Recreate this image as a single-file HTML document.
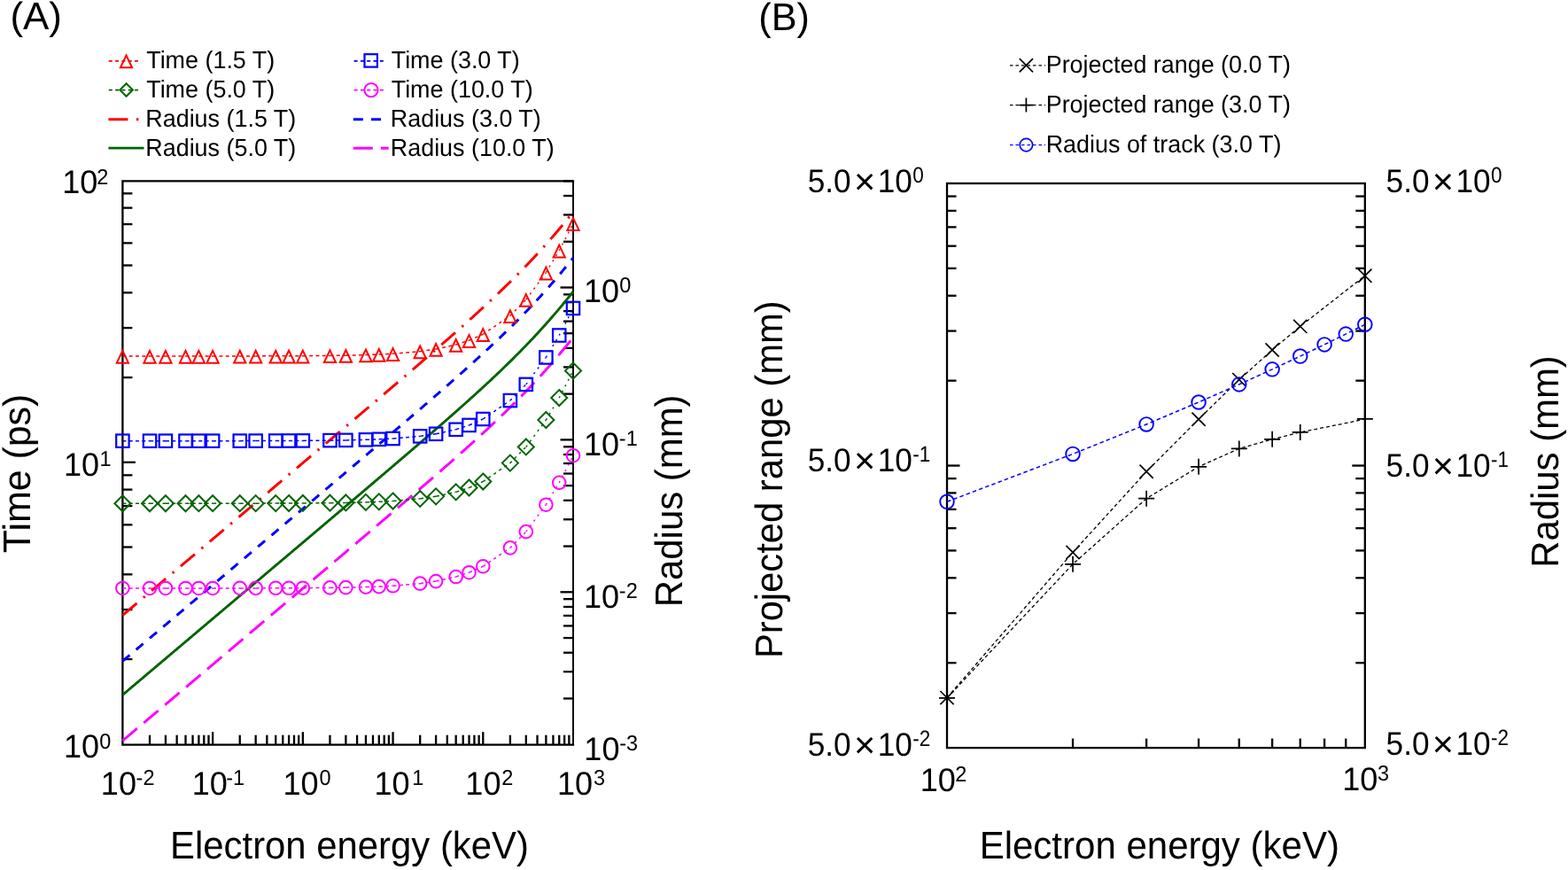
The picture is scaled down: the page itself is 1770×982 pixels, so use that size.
<!DOCTYPE html><html><head><meta charset="utf-8"><style>html,body{margin:0;padding:0;background:#fff;overflow:hidden}svg{display:block}</style></head><body><svg width="1770" height="982" viewBox="0 0 1770 982" text-rendering="geometricPrecision" font-family="'Liberation Sans', Arial, sans-serif">
<rect width="1770" height="982" fill="#ffffff"/>
<text transform="translate(11.38,33.3) scale(1.0097,1)" font-size="43.5">(A)</text>
<text transform="translate(165.2,76.8) scale(0.9750,1)" font-size="27.6">Time (1.5 T)</text>
<text transform="translate(165.2,110) scale(0.9750,1)" font-size="27.6">Time (5.0 T)</text>
<text transform="translate(164.29,143.2) scale(0.9750,1)" font-size="27.6">Radius (1.5 T)</text>
<text transform="translate(164.29,176.4) scale(0.9750,1)" font-size="27.6">Radius (5.0 T)</text>
<text transform="translate(441.7,76.8) scale(0.9750,1)" font-size="27.6">Time (3.0 T)</text>
<text transform="translate(441.7,110) scale(0.9750,1)" font-size="27.6">Time (10.0 T)</text>
<text transform="translate(440.79,143.2) scale(0.9750,1)" font-size="27.6">Radius (3.0 T)</text>
<text transform="translate(440.79,176.4) scale(0.9750,1)" font-size="27.6">Radius (10.0 T)</text>
<polyline points="122.8,68.9 158.5,68.9" fill="none" stroke="#ff0000" stroke-width="1.6" stroke-dasharray="4 3.3" stroke-linecap="butt" stroke-linejoin="round"/>
<path d="M142.5,62.5 L149.1,76.3 L135.9,76.3 Z" fill="none" stroke="#ff0000" stroke-width="2.0" stroke-linejoin="miter" stroke-miterlimit="10"/>
<polyline points="122.8,101.6 158.5,101.6" fill="none" stroke="#006400" stroke-width="1.6" stroke-dasharray="4 3.3" stroke-linecap="butt" stroke-linejoin="round"/>
<path d="M142.6,94.2 L149.9,101.5 L142.6,108.8 L135.3,101.5 Z" fill="none" stroke="#006400" stroke-width="2.0" stroke-miterlimit="10"/>
<polyline points="122.4,134.7 157,134.7" fill="none" stroke="#ff0000" stroke-width="3" stroke-dasharray="22 9.5 2.5 9.5" stroke-linecap="butt" stroke-linejoin="round"/>
<polyline points="122.4,167.2 162.5,167.2" fill="none" stroke="#006400" stroke-width="2.8" stroke-linecap="butt" stroke-linejoin="round"/>
<polyline points="399.6,68.9 434.8,68.9" fill="none" stroke="#0000ff" stroke-width="1.6" stroke-dasharray="4 3.3" stroke-linecap="butt" stroke-linejoin="round"/>
<rect x="411.5" y="61.2" width="14.4" height="14.4" fill="none" stroke="#0000ff" stroke-width="2.2"/>
<polyline points="399.6,101.6 434.8,101.6" fill="none" stroke="#ff00ff" stroke-width="1.6" stroke-dasharray="4 3.3" stroke-linecap="butt" stroke-linejoin="round"/>
<circle cx="419" cy="101.6" r="7.6" fill="none" stroke="#ff00ff" stroke-width="2.0"/>
<polyline points="398.8,134.7 430,134.7" fill="none" stroke="#0000ff" stroke-width="3" stroke-dasharray="11 9.2" stroke-linecap="butt" stroke-linejoin="round"/>
<polyline points="398.8,167.2 438.7,167.2" fill="none" stroke="#ff00ff" stroke-width="3" stroke-dasharray="22 9" stroke-linecap="butt" stroke-linejoin="round"/>
<path d="M647,204.3 L138.4,204.3 L138.4,840.7 L647,840.7" fill="none" stroke="#000" stroke-width="2.3" stroke-linecap="square"/>
<line x1="647" y1="204.3" x2="647" y2="840.7" stroke="#000000" stroke-width="1.9" />
<line x1="169.02" y1="840.7" x2="169.02" y2="829.7" stroke="#000000" stroke-width="2.3" />
<line x1="186.93" y1="840.7" x2="186.93" y2="829.7" stroke="#000000" stroke-width="2.3" />
<line x1="199.64" y1="840.7" x2="199.64" y2="829.7" stroke="#000000" stroke-width="2.3" />
<line x1="209.5" y1="840.7" x2="209.5" y2="829.7" stroke="#000000" stroke-width="2.3" />
<line x1="217.55" y1="840.7" x2="217.55" y2="829.7" stroke="#000000" stroke-width="2.3" />
<line x1="224.36" y1="840.7" x2="224.36" y2="829.7" stroke="#000000" stroke-width="2.3" />
<line x1="230.26" y1="840.7" x2="230.26" y2="829.7" stroke="#000000" stroke-width="2.3" />
<line x1="235.47" y1="840.7" x2="235.47" y2="829.7" stroke="#000000" stroke-width="2.3" />
<line x1="240.12" y1="840.7" x2="240.12" y2="826.2" stroke="#000000" stroke-width="2.3" />
<line x1="270.74" y1="840.7" x2="270.74" y2="829.7" stroke="#000000" stroke-width="2.3" />
<line x1="288.65" y1="840.7" x2="288.65" y2="829.7" stroke="#000000" stroke-width="2.3" />
<line x1="301.36" y1="840.7" x2="301.36" y2="829.7" stroke="#000000" stroke-width="2.3" />
<line x1="311.22" y1="840.7" x2="311.22" y2="829.7" stroke="#000000" stroke-width="2.3" />
<line x1="319.27" y1="840.7" x2="319.27" y2="829.7" stroke="#000000" stroke-width="2.3" />
<line x1="326.08" y1="840.7" x2="326.08" y2="829.7" stroke="#000000" stroke-width="2.3" />
<line x1="331.98" y1="840.7" x2="331.98" y2="829.7" stroke="#000000" stroke-width="2.3" />
<line x1="337.19" y1="840.7" x2="337.19" y2="829.7" stroke="#000000" stroke-width="2.3" />
<line x1="341.84" y1="840.7" x2="341.84" y2="826.2" stroke="#000000" stroke-width="2.3" />
<line x1="372.46" y1="840.7" x2="372.46" y2="829.7" stroke="#000000" stroke-width="2.3" />
<line x1="390.37" y1="840.7" x2="390.37" y2="829.7" stroke="#000000" stroke-width="2.3" />
<line x1="403.08" y1="840.7" x2="403.08" y2="829.7" stroke="#000000" stroke-width="2.3" />
<line x1="412.94" y1="840.7" x2="412.94" y2="829.7" stroke="#000000" stroke-width="2.3" />
<line x1="420.99" y1="840.7" x2="420.99" y2="829.7" stroke="#000000" stroke-width="2.3" />
<line x1="427.8" y1="840.7" x2="427.8" y2="829.7" stroke="#000000" stroke-width="2.3" />
<line x1="433.7" y1="840.7" x2="433.7" y2="829.7" stroke="#000000" stroke-width="2.3" />
<line x1="438.91" y1="840.7" x2="438.91" y2="829.7" stroke="#000000" stroke-width="2.3" />
<line x1="443.56" y1="840.7" x2="443.56" y2="826.2" stroke="#000000" stroke-width="2.3" />
<line x1="474.18" y1="840.7" x2="474.18" y2="829.7" stroke="#000000" stroke-width="2.3" />
<line x1="492.09" y1="840.7" x2="492.09" y2="829.7" stroke="#000000" stroke-width="2.3" />
<line x1="504.8" y1="840.7" x2="504.8" y2="829.7" stroke="#000000" stroke-width="2.3" />
<line x1="514.66" y1="840.7" x2="514.66" y2="829.7" stroke="#000000" stroke-width="2.3" />
<line x1="522.71" y1="840.7" x2="522.71" y2="829.7" stroke="#000000" stroke-width="2.3" />
<line x1="529.52" y1="840.7" x2="529.52" y2="829.7" stroke="#000000" stroke-width="2.3" />
<line x1="535.42" y1="840.7" x2="535.42" y2="829.7" stroke="#000000" stroke-width="2.3" />
<line x1="540.63" y1="840.7" x2="540.63" y2="829.7" stroke="#000000" stroke-width="2.3" />
<line x1="545.28" y1="840.7" x2="545.28" y2="826.2" stroke="#000000" stroke-width="2.3" />
<line x1="575.9" y1="840.7" x2="575.9" y2="829.7" stroke="#000000" stroke-width="2.3" />
<line x1="593.81" y1="840.7" x2="593.81" y2="829.7" stroke="#000000" stroke-width="2.3" />
<line x1="606.52" y1="840.7" x2="606.52" y2="829.7" stroke="#000000" stroke-width="2.3" />
<line x1="616.38" y1="840.7" x2="616.38" y2="829.7" stroke="#000000" stroke-width="2.3" />
<line x1="624.43" y1="840.7" x2="624.43" y2="829.7" stroke="#000000" stroke-width="2.3" />
<line x1="631.24" y1="840.7" x2="631.24" y2="829.7" stroke="#000000" stroke-width="2.3" />
<line x1="637.14" y1="840.7" x2="637.14" y2="829.7" stroke="#000000" stroke-width="2.3" />
<line x1="642.35" y1="840.7" x2="642.35" y2="829.7" stroke="#000000" stroke-width="2.3" />
<line x1="138.4" y1="744.07" x2="149.4" y2="744.07" stroke="#000000" stroke-width="2.3" />
<line x1="138.4" y1="688.08" x2="149.4" y2="688.08" stroke="#000000" stroke-width="2.3" />
<line x1="138.4" y1="648.34" x2="149.4" y2="648.34" stroke="#000000" stroke-width="2.3" />
<line x1="138.4" y1="617.53" x2="149.4" y2="617.53" stroke="#000000" stroke-width="2.3" />
<line x1="138.4" y1="592.35" x2="149.4" y2="592.35" stroke="#000000" stroke-width="2.3" />
<line x1="138.4" y1="571.06" x2="149.4" y2="571.06" stroke="#000000" stroke-width="2.3" />
<line x1="138.4" y1="552.62" x2="149.4" y2="552.62" stroke="#000000" stroke-width="2.3" />
<line x1="138.4" y1="536.35" x2="149.4" y2="536.35" stroke="#000000" stroke-width="2.3" />
<line x1="138.4" y1="426.07" x2="149.4" y2="426.07" stroke="#000000" stroke-width="2.3" />
<line x1="138.4" y1="370.08" x2="149.4" y2="370.08" stroke="#000000" stroke-width="2.3" />
<line x1="138.4" y1="330.34" x2="149.4" y2="330.34" stroke="#000000" stroke-width="2.3" />
<line x1="138.4" y1="299.53" x2="149.4" y2="299.53" stroke="#000000" stroke-width="2.3" />
<line x1="138.4" y1="274.35" x2="149.4" y2="274.35" stroke="#000000" stroke-width="2.3" />
<line x1="138.4" y1="253.06" x2="149.4" y2="253.06" stroke="#000000" stroke-width="2.3" />
<line x1="138.4" y1="234.62" x2="149.4" y2="234.62" stroke="#000000" stroke-width="2.3" />
<line x1="138.4" y1="218.35" x2="149.4" y2="218.35" stroke="#000000" stroke-width="2.3" />
<line x1="138.4" y1="521.8" x2="152.9" y2="521.8" stroke="#000000" stroke-width="2.3" />
<line x1="647" y1="788.45" x2="636" y2="788.45" stroke="#000000" stroke-width="2.3" />
<line x1="647" y1="758.18" x2="636" y2="758.18" stroke="#000000" stroke-width="2.3" />
<line x1="647" y1="736.71" x2="636" y2="736.71" stroke="#000000" stroke-width="2.3" />
<line x1="647" y1="720.05" x2="636" y2="720.05" stroke="#000000" stroke-width="2.3" />
<line x1="647" y1="706.44" x2="636" y2="706.44" stroke="#000000" stroke-width="2.3" />
<line x1="647" y1="694.93" x2="636" y2="694.93" stroke="#000000" stroke-width="2.3" />
<line x1="647" y1="684.96" x2="636" y2="684.96" stroke="#000000" stroke-width="2.3" />
<line x1="647" y1="676.17" x2="636" y2="676.17" stroke="#000000" stroke-width="2.3" />
<line x1="647" y1="616.55" x2="636" y2="616.55" stroke="#000000" stroke-width="2.3" />
<line x1="647" y1="586.28" x2="636" y2="586.28" stroke="#000000" stroke-width="2.3" />
<line x1="647" y1="564.81" x2="636" y2="564.81" stroke="#000000" stroke-width="2.3" />
<line x1="647" y1="548.15" x2="636" y2="548.15" stroke="#000000" stroke-width="2.3" />
<line x1="647" y1="534.54" x2="636" y2="534.54" stroke="#000000" stroke-width="2.3" />
<line x1="647" y1="523.03" x2="636" y2="523.03" stroke="#000000" stroke-width="2.3" />
<line x1="647" y1="513.06" x2="636" y2="513.06" stroke="#000000" stroke-width="2.3" />
<line x1="647" y1="504.27" x2="636" y2="504.27" stroke="#000000" stroke-width="2.3" />
<line x1="647" y1="444.65" x2="636" y2="444.65" stroke="#000000" stroke-width="2.3" />
<line x1="647" y1="414.38" x2="636" y2="414.38" stroke="#000000" stroke-width="2.3" />
<line x1="647" y1="392.91" x2="636" y2="392.91" stroke="#000000" stroke-width="2.3" />
<line x1="647" y1="376.25" x2="636" y2="376.25" stroke="#000000" stroke-width="2.3" />
<line x1="647" y1="362.64" x2="636" y2="362.64" stroke="#000000" stroke-width="2.3" />
<line x1="647" y1="351.13" x2="636" y2="351.13" stroke="#000000" stroke-width="2.3" />
<line x1="647" y1="341.16" x2="636" y2="341.16" stroke="#000000" stroke-width="2.3" />
<line x1="647" y1="332.37" x2="636" y2="332.37" stroke="#000000" stroke-width="2.3" />
<line x1="647" y1="272.75" x2="636" y2="272.75" stroke="#000000" stroke-width="2.3" />
<line x1="647" y1="242.48" x2="636" y2="242.48" stroke="#000000" stroke-width="2.3" />
<line x1="647" y1="221.01" x2="636" y2="221.01" stroke="#000000" stroke-width="2.3" />
<line x1="647" y1="204.35" x2="636" y2="204.35" stroke="#000000" stroke-width="2.3" />
<line x1="647" y1="668.3" x2="632.5" y2="668.3" stroke="#000000" stroke-width="2.3" />
<line x1="647" y1="496.4" x2="632.5" y2="496.4" stroke="#000000" stroke-width="2.3" />
<line x1="647" y1="324.5" x2="632.5" y2="324.5" stroke="#000000" stroke-width="2.3" />
<polyline points="138.4,694.47 139.67,693.4 140.94,692.32 142.21,691.25 143.49,690.18 144.76,689.1 146.03,688.03 147.3,686.95 148.57,685.88 149.84,684.8 151.12,683.73 152.39,682.65 153.66,681.58 154.93,680.51 156.2,679.43 157.47,678.36 158.74,677.28 160.02,676.21 161.29,675.13 162.56,674.06 163.83,672.99 165.1,671.91 166.37,670.84 167.64,669.76 168.92,668.69 170.19,667.61 171.46,666.54 172.73,665.46 174,664.39 175.27,663.32 176.55,662.24 177.82,661.17 179.09,660.09 180.36,659.02 181.63,657.94 182.9,656.87 184.17,655.79 185.45,654.72 186.72,653.65 187.99,652.57 189.26,651.5 190.53,650.42 191.8,649.35 193.07,648.27 194.35,647.2 195.62,646.13 196.89,645.05 198.16,643.98 199.43,642.9 200.7,641.83 201.98,640.75 203.25,639.68 204.52,638.6 205.79,637.53 207.06,636.46 208.33,635.38 209.6,634.31 210.88,633.23 212.15,632.16 213.42,631.08 214.69,630.01 215.96,628.93 217.23,627.86 218.5,626.79 219.78,625.71 221.05,624.64 222.32,623.56 223.59,622.49 224.86,621.41 226.13,620.34 227.41,619.26 228.68,618.19 229.95,617.12 231.22,616.04 232.49,614.97 233.76,613.89 235.03,612.82 236.31,611.74 237.58,610.67 238.85,609.59 240.12,608.52 241.39,607.45 242.66,606.37 243.93,605.3 245.21,604.22 246.48,603.15 247.75,602.07 249.02,601 250.29,599.92 251.56,598.85 252.84,597.77 254.11,596.7 255.38,595.63 256.65,594.55 257.92,593.48 259.19,592.4 260.46,591.33 261.74,590.25 263.01,589.18 264.28,588.1 265.55,587.03 266.82,585.95 268.09,584.88 269.36,583.81 270.64,582.73 271.91,581.66 273.18,580.58 274.45,579.51 275.72,578.43 276.99,577.36 278.26,576.28 279.54,575.21 280.81,574.13 282.08,573.06 283.35,571.98 284.62,570.91 285.89,569.84 287.17,568.76 288.44,567.69 289.71,566.61 290.98,565.54 292.25,564.46 293.52,563.39 294.79,562.31 296.07,561.24 297.34,560.16 298.61,559.09 299.88,558.01 301.15,556.94 302.42,555.86 303.69,554.79 304.97,553.71 306.24,552.64 307.51,551.56 308.78,550.49 310.05,549.41 311.32,548.34 312.6,547.27 313.87,546.19 315.14,545.12 316.41,544.04 317.68,542.97 318.95,541.89 320.22,540.82 321.5,539.74 322.77,538.67 324.04,537.59 325.31,536.52 326.58,535.44 327.85,534.36 329.12,533.29 330.4,532.21 331.67,531.14 332.94,530.06 334.21,528.99 335.48,527.91 336.75,526.84 338.03,525.76 339.3,524.69 340.57,523.61 341.84,522.54 343.11,521.46 344.38,520.39 345.65,519.31 346.93,518.23 348.2,517.16 349.47,516.08 350.74,515.01 352.01,513.93 353.28,512.86 354.56,511.78 355.83,510.71 357.1,509.63 358.37,508.55 359.64,507.48 360.91,506.4 362.18,505.33 363.46,504.25 364.73,503.17 366,502.1 367.27,501.02 368.54,499.94 369.81,498.87 371.08,497.79 372.36,496.72 373.63,495.64 374.9,494.56 376.17,493.49 377.44,492.41 378.71,491.33 379.99,490.26 381.26,489.18 382.53,488.1 383.8,487.02 385.07,485.95 386.34,484.87 387.61,483.79 388.89,482.72 390.16,481.64 391.43,480.56 392.7,479.48 393.97,478.41 395.24,477.33 396.51,476.25 397.79,475.17 399.06,474.09 400.33,473.01 401.6,471.94 402.87,470.86 404.14,469.78 405.41,468.7 406.69,467.62 407.96,466.54 409.23,465.46 410.5,464.38 411.77,463.31 413.04,462.23 414.32,461.15 415.59,460.07 416.86,458.99 418.13,457.91 419.4,456.83 420.67,455.75 421.94,454.66 423.22,453.58 424.49,452.5 425.76,451.42 427.03,450.34 428.3,449.26 429.57,448.18 430.85,447.09 432.12,446.01 433.39,444.93 434.66,443.85 435.93,442.76 437.2,441.68 438.47,440.6 439.75,439.51 441.02,438.43 442.29,437.34 443.56,436.26 444.83,435.17 446.1,434.09 447.37,433 448.65,431.92 449.92,430.83 451.19,429.75 452.46,428.66 453.73,427.57 455,426.48 456.27,425.4 457.55,424.31 458.82,423.22 460.09,422.13 461.36,421.04 462.63,419.95 463.9,418.86 465.18,417.77 466.45,416.68 467.72,415.58 468.99,414.49 470.26,413.4 471.53,412.31 472.8,411.21 474.08,410.12 475.35,409.02 476.62,407.93 477.89,406.83 479.16,405.73 480.43,404.63 481.71,403.54 482.98,402.44 484.25,401.34 485.52,400.24 486.79,399.14 488.06,398.03 489.33,396.93 490.61,395.83 491.88,394.72 493.15,393.62 494.42,392.51 495.69,391.4 496.96,390.3 498.23,389.19 499.51,388.08 500.78,386.97 502.05,385.85 503.32,384.74 504.59,383.63 505.86,382.51 507.13,381.4 508.41,380.28 509.68,379.16 510.95,378.04 512.22,376.92 513.49,375.8 514.76,374.67 516.04,373.55 517.31,372.42 518.58,371.29 519.85,370.16 521.12,369.03 522.39,367.9 523.66,366.76 524.94,365.63 526.21,364.49 527.48,363.35 528.75,362.21 530.02,361.07 531.29,359.92 532.57,358.77 533.84,357.63 535.11,356.47 536.38,355.32 537.65,354.17 538.92,353.01 540.19,351.85 541.47,350.69 542.74,349.52 544.01,348.36 545.28,347.19 546.55,346.02 547.82,344.84 549.09,343.67 550.37,342.49 551.64,341.31 552.91,340.12 554.18,338.93 555.45,337.74 556.72,336.55 558,335.35 559.27,334.15 560.54,332.95 561.81,331.74 563.08,330.53 564.35,329.32 565.62,328.1 566.9,326.88 568.17,325.66 569.44,324.43 570.71,323.2 571.98,321.96 573.25,320.72 574.52,319.48 575.8,318.23 577.07,316.98 578.34,315.72 579.61,314.46 580.88,313.2 582.15,311.93 583.42,310.65 584.7,309.37 585.97,308.09 587.24,306.8 588.51,305.51 589.78,304.21 591.05,302.9 592.33,301.6 593.6,300.28 594.87,298.96 596.14,297.64 597.41,296.3 598.68,294.97 599.95,293.63 601.23,292.28 602.5,290.92 603.77,289.56 605.04,288.2 606.31,286.82 607.58,285.44 608.86,284.06 610.13,282.67 611.4,281.27 612.67,279.87 613.94,278.46 615.21,277.04 616.48,275.61 617.76,274.18 619.03,272.74 620.3,271.3 621.57,269.85 622.84,268.39 624.11,266.92 625.38,265.45 626.66,263.97 627.93,262.48 629.2,260.98 630.47,259.48 631.74,257.97 633.01,256.45 634.28,254.93 635.56,253.39 636.83,251.85 638.1,250.3 639.37,248.75 640.64,247.19 641.91,245.61 643.19,244.04 644.46,242.45 645.73,240.86 647,239.25" fill="none" stroke="#ff0000" stroke-width="3" stroke-dasharray="21 9.75 2.4 9.75" stroke-linecap="butt" stroke-linejoin="round"/>
<polyline points="138.4,746.22 139.67,745.15 140.94,744.07 142.21,743 143.49,741.92 144.76,740.85 146.03,739.77 147.3,738.7 148.57,737.62 149.84,736.55 151.12,735.48 152.39,734.4 153.66,733.33 154.93,732.25 156.2,731.18 157.47,730.1 158.74,729.03 160.02,727.96 161.29,726.88 162.56,725.81 163.83,724.73 165.1,723.66 166.37,722.58 167.64,721.51 168.92,720.43 170.19,719.36 171.46,718.29 172.73,717.21 174,716.14 175.27,715.06 176.55,713.99 177.82,712.91 179.09,711.84 180.36,710.76 181.63,709.69 182.9,708.62 184.17,707.54 185.45,706.47 186.72,705.39 187.99,704.32 189.26,703.24 190.53,702.17 191.8,701.1 193.07,700.02 194.35,698.95 195.62,697.87 196.89,696.8 198.16,695.72 199.43,694.65 200.7,693.57 201.98,692.5 203.25,691.43 204.52,690.35 205.79,689.28 207.06,688.2 208.33,687.13 209.6,686.05 210.88,684.98 212.15,683.9 213.42,682.83 214.69,681.76 215.96,680.68 217.23,679.61 218.5,678.53 219.78,677.46 221.05,676.38 222.32,675.31 223.59,674.23 224.86,673.16 226.13,672.09 227.41,671.01 228.68,669.94 229.95,668.86 231.22,667.79 232.49,666.71 233.76,665.64 235.03,664.56 236.31,663.49 237.58,662.42 238.85,661.34 240.12,660.27 241.39,659.19 242.66,658.12 243.93,657.04 245.21,655.97 246.48,654.89 247.75,653.82 249.02,652.75 250.29,651.67 251.56,650.6 252.84,649.52 254.11,648.45 255.38,647.37 256.65,646.3 257.92,645.22 259.19,644.15 260.46,643.07 261.74,642 263.01,640.93 264.28,639.85 265.55,638.78 266.82,637.7 268.09,636.63 269.36,635.55 270.64,634.48 271.91,633.4 273.18,632.33 274.45,631.25 275.72,630.18 276.99,629.11 278.26,628.03 279.54,626.96 280.81,625.88 282.08,624.81 283.35,623.73 284.62,622.66 285.89,621.58 287.17,620.51 288.44,619.43 289.71,618.36 290.98,617.28 292.25,616.21 293.52,615.13 294.79,614.06 296.07,612.98 297.34,611.91 298.61,610.84 299.88,609.76 301.15,608.69 302.42,607.61 303.69,606.54 304.97,605.46 306.24,604.39 307.51,603.31 308.78,602.24 310.05,601.16 311.32,600.09 312.6,599.01 313.87,597.94 315.14,596.86 316.41,595.79 317.68,594.71 318.95,593.64 320.22,592.56 321.5,591.49 322.77,590.41 324.04,589.34 325.31,588.26 326.58,587.19 327.85,586.11 329.12,585.04 330.4,583.96 331.67,582.89 332.94,581.81 334.21,580.74 335.48,579.66 336.75,578.59 338.03,577.51 339.3,576.43 340.57,575.36 341.84,574.28 343.11,573.21 344.38,572.13 345.65,571.06 346.93,569.98 348.2,568.91 349.47,567.83 350.74,566.76 352.01,565.68 353.28,564.6 354.56,563.53 355.83,562.45 357.1,561.38 358.37,560.3 359.64,559.22 360.91,558.15 362.18,557.07 363.46,556 364.73,554.92 366,553.84 367.27,552.77 368.54,551.69 369.81,550.62 371.08,549.54 372.36,548.46 373.63,547.39 374.9,546.31 376.17,545.23 377.44,544.16 378.71,543.08 379.99,542 381.26,540.93 382.53,539.85 383.8,538.77 385.07,537.69 386.34,536.62 387.61,535.54 388.89,534.46 390.16,533.39 391.43,532.31 392.7,531.23 393.97,530.15 395.24,529.07 396.51,528 397.79,526.92 399.06,525.84 400.33,524.76 401.6,523.68 402.87,522.61 404.14,521.53 405.41,520.45 406.69,519.37 407.96,518.29 409.23,517.21 410.5,516.13 411.77,515.05 413.04,513.97 414.32,512.89 415.59,511.81 416.86,510.73 418.13,509.65 419.4,508.57 420.67,507.49 421.94,506.41 423.22,505.33 424.49,504.25 425.76,503.17 427.03,502.09 428.3,501.01 429.57,499.92 430.85,498.84 432.12,497.76 433.39,496.68 434.66,495.59 435.93,494.51 437.2,493.43 438.47,492.34 439.75,491.26 441.02,490.18 442.29,489.09 443.56,488.01 444.83,486.92 446.1,485.84 447.37,484.75 448.65,483.67 449.92,482.58 451.19,481.49 452.46,480.41 453.73,479.32 455,478.23 456.27,477.14 457.55,476.05 458.82,474.97 460.09,473.88 461.36,472.79 462.63,471.7 463.9,470.61 465.18,469.51 466.45,468.42 467.72,467.33 468.99,466.24 470.26,465.15 471.53,464.05 472.8,462.96 474.08,461.86 475.35,460.77 476.62,459.67 477.89,458.58 479.16,457.48 480.43,456.38 481.71,455.28 482.98,454.18 484.25,453.08 485.52,451.98 486.79,450.88 488.06,449.78 489.33,448.68 490.61,447.57 491.88,446.47 493.15,445.36 494.42,444.26 495.69,443.15 496.96,442.04 498.23,440.93 499.51,439.82 500.78,438.71 502.05,437.6 503.32,436.49 504.59,435.37 505.86,434.26 507.13,433.14 508.41,432.02 509.68,430.91 510.95,429.79 512.22,428.66 513.49,427.54 514.76,426.42 516.04,425.29 517.31,424.17 518.58,423.04 519.85,421.91 521.12,420.78 522.39,419.64 523.66,418.51 524.94,417.37 526.21,416.24 527.48,415.1 528.75,413.96 530.02,412.81 531.29,411.67 532.57,410.52 533.84,409.37 535.11,408.22 536.38,407.07 537.65,405.91 538.92,404.76 540.19,403.6 541.47,402.44 542.74,401.27 544.01,400.1 545.28,398.94 546.55,397.76 547.82,396.59 549.09,395.41 550.37,394.23 551.64,393.05 552.91,391.87 554.18,390.68 555.45,389.49 556.72,388.3 558,387.1 559.27,385.9 560.54,384.7 561.81,383.49 563.08,382.28 564.35,381.07 565.62,379.85 566.9,378.63 568.17,377.4 569.44,376.18 570.71,374.94 571.98,373.71 573.25,372.47 574.52,371.23 575.8,369.98 577.07,368.73 578.34,367.47 579.61,366.21 580.88,364.94 582.15,363.67 583.42,362.4 584.7,361.12 585.97,359.84 587.24,358.55 588.51,357.25 589.78,355.96 591.05,354.65 592.33,353.34 593.6,352.03 594.87,350.71 596.14,349.38 597.41,348.05 598.68,346.71 599.95,345.37 601.23,344.02 602.5,342.67 603.77,341.31 605.04,339.94 606.31,338.57 607.58,337.19 608.86,335.81 610.13,334.42 611.4,333.02 612.67,331.61 613.94,330.2 615.21,328.78 616.48,327.36 617.76,325.93 619.03,324.49 620.3,323.05 621.57,321.59 622.84,320.13 624.11,318.67 625.38,317.19 626.66,315.71 627.93,314.22 629.2,312.73 630.47,311.23 631.74,309.72 633.01,308.2 634.28,306.67 635.56,305.14 636.83,303.6 638.1,302.05 639.37,300.5 640.64,298.93 641.91,297.36 643.19,295.78 644.46,294.2 645.73,292.6 647,291" fill="none" stroke="#0000ff" stroke-width="3" stroke-dasharray="10.5 9.5" stroke-linecap="butt" stroke-linejoin="round"/>
<polyline points="138.4,784.36 139.67,783.28 140.94,782.21 142.21,781.13 143.49,780.06 144.76,778.98 146.03,777.91 147.3,776.84 148.57,775.76 149.84,774.69 151.12,773.61 152.39,772.54 153.66,771.46 154.93,770.39 156.2,769.31 157.47,768.24 158.74,767.17 160.02,766.09 161.29,765.02 162.56,763.94 163.83,762.87 165.1,761.79 166.37,760.72 167.64,759.64 168.92,758.57 170.19,757.5 171.46,756.42 172.73,755.35 174,754.27 175.27,753.2 176.55,752.12 177.82,751.05 179.09,749.98 180.36,748.9 181.63,747.83 182.9,746.75 184.17,745.68 185.45,744.6 186.72,743.53 187.99,742.45 189.26,741.38 190.53,740.31 191.8,739.23 193.07,738.16 194.35,737.08 195.62,736.01 196.89,734.93 198.16,733.86 199.43,732.78 200.7,731.71 201.98,730.64 203.25,729.56 204.52,728.49 205.79,727.41 207.06,726.34 208.33,725.26 209.6,724.19 210.88,723.11 212.15,722.04 213.42,720.97 214.69,719.89 215.96,718.82 217.23,717.74 218.5,716.67 219.78,715.59 221.05,714.52 222.32,713.44 223.59,712.37 224.86,711.3 226.13,710.22 227.41,709.15 228.68,708.07 229.95,707 231.22,705.92 232.49,704.85 233.76,703.77 235.03,702.7 236.31,701.63 237.58,700.55 238.85,699.48 240.12,698.4 241.39,697.33 242.66,696.25 243.93,695.18 245.21,694.1 246.48,693.03 247.75,691.96 249.02,690.88 250.29,689.81 251.56,688.73 252.84,687.66 254.11,686.58 255.38,685.51 256.65,684.43 257.92,683.36 259.19,682.28 260.46,681.21 261.74,680.14 263.01,679.06 264.28,677.99 265.55,676.91 266.82,675.84 268.09,674.76 269.36,673.69 270.64,672.61 271.91,671.54 273.18,670.46 274.45,669.39 275.72,668.32 276.99,667.24 278.26,666.17 279.54,665.09 280.81,664.02 282.08,662.94 283.35,661.87 284.62,660.79 285.89,659.72 287.17,658.64 288.44,657.57 289.71,656.49 290.98,655.42 292.25,654.34 293.52,653.27 294.79,652.2 296.07,651.12 297.34,650.05 298.61,648.97 299.88,647.9 301.15,646.82 302.42,645.75 303.69,644.67 304.97,643.6 306.24,642.52 307.51,641.45 308.78,640.37 310.05,639.3 311.32,638.22 312.6,637.15 313.87,636.07 315.14,635 316.41,633.92 317.68,632.85 318.95,631.77 320.22,630.7 321.5,629.62 322.77,628.55 324.04,627.47 325.31,626.4 326.58,625.32 327.85,624.25 329.12,623.17 330.4,622.1 331.67,621.02 332.94,619.95 334.21,618.87 335.48,617.8 336.75,616.72 338.03,615.65 339.3,614.57 340.57,613.5 341.84,612.42 343.11,611.34 344.38,610.27 345.65,609.19 346.93,608.12 348.2,607.04 349.47,605.97 350.74,604.89 352.01,603.82 353.28,602.74 354.56,601.66 355.83,600.59 357.1,599.51 358.37,598.44 359.64,597.36 360.91,596.28 362.18,595.21 363.46,594.13 364.73,593.06 366,591.98 367.27,590.9 368.54,589.83 369.81,588.75 371.08,587.67 372.36,586.6 373.63,585.52 374.9,584.45 376.17,583.37 377.44,582.29 378.71,581.22 379.99,580.14 381.26,579.06 382.53,577.98 383.8,576.91 385.07,575.83 386.34,574.75 387.61,573.68 388.89,572.6 390.16,571.52 391.43,570.44 392.7,569.37 393.97,568.29 395.24,567.21 396.51,566.13 397.79,565.05 399.06,563.98 400.33,562.9 401.6,561.82 402.87,560.74 404.14,559.66 405.41,558.58 406.69,557.5 407.96,556.43 409.23,555.35 410.5,554.27 411.77,553.19 413.04,552.11 414.32,551.03 415.59,549.95 416.86,548.87 418.13,547.79 419.4,546.71 420.67,545.63 421.94,544.55 423.22,543.47 424.49,542.39 425.76,541.3 427.03,540.22 428.3,539.14 429.57,538.06 430.85,536.98 432.12,535.89 433.39,534.81 434.66,533.73 435.93,532.65 437.2,531.56 438.47,530.48 439.75,529.4 441.02,528.31 442.29,527.23 443.56,526.14 444.83,525.06 446.1,523.97 447.37,522.89 448.65,521.8 449.92,520.71 451.19,519.63 452.46,518.54 453.73,517.45 455,516.37 456.27,515.28 457.55,514.19 458.82,513.1 460.09,512.01 461.36,510.92 462.63,509.83 463.9,508.74 465.18,507.65 466.45,506.56 467.72,505.47 468.99,504.37 470.26,503.28 471.53,502.19 472.8,501.09 474.08,500 475.35,498.9 476.62,497.81 477.89,496.71 479.16,495.61 480.43,494.52 481.71,493.42 482.98,492.32 484.25,491.22 485.52,490.12 486.79,489.02 488.06,487.92 489.33,486.81 490.61,485.71 491.88,484.61 493.15,483.5 494.42,482.39 495.69,481.29 496.96,480.18 498.23,479.07 499.51,477.96 500.78,476.85 502.05,475.74 503.32,474.62 504.59,473.51 505.86,472.39 507.13,471.28 508.41,470.16 509.68,469.04 510.95,467.92 512.22,466.8 513.49,465.68 514.76,464.55 516.04,463.43 517.31,462.3 518.58,461.17 519.85,460.04 521.12,458.91 522.39,457.78 523.66,456.65 524.94,455.51 526.21,454.37 527.48,453.23 528.75,452.09 530.02,450.95 531.29,449.8 532.57,448.66 533.84,447.51 535.11,446.36 536.38,445.2 537.65,444.05 538.92,442.89 540.19,441.73 541.47,440.57 542.74,439.41 544.01,438.24 545.28,437.07 546.55,435.9 547.82,434.73 549.09,433.55 550.37,432.37 551.64,431.19 552.91,430 554.18,428.82 555.45,427.62 556.72,426.43 558,425.23 559.27,424.03 560.54,422.83 561.81,421.62 563.08,420.41 564.35,419.2 565.62,417.98 566.9,416.76 568.17,415.54 569.44,414.31 570.71,413.08 571.98,411.85 573.25,410.61 574.52,409.36 575.8,408.11 577.07,406.86 578.34,405.61 579.61,404.35 580.88,403.08 582.15,401.81 583.42,400.54 584.7,399.26 585.97,397.97 587.24,396.68 588.51,395.39 589.78,394.09 591.05,392.79 592.33,391.48 593.6,390.16 594.87,388.84 596.14,387.52 597.41,386.19 598.68,384.85 599.95,383.51 601.23,382.16 602.5,380.81 603.77,379.45 605.04,378.08 606.31,376.71 607.58,375.33 608.86,373.94 610.13,372.55 611.4,371.15 612.67,369.75 613.94,368.34 615.21,366.92 616.48,365.5 617.76,364.06 619.03,362.63 620.3,361.18 621.57,359.73 622.84,358.27 624.11,356.8 625.38,355.33 626.66,353.85 627.93,352.36 629.2,350.87 630.47,349.36 631.74,347.85 633.01,346.33 634.28,344.81 635.56,343.28 636.83,341.74 638.1,340.19 639.37,338.63 640.64,337.07 641.91,335.5 643.19,333.92 644.46,332.33 645.73,330.74 647,329.14" fill="none" stroke="#006400" stroke-width="2.9" stroke-linecap="butt" stroke-linejoin="round"/>
<polyline points="138.4,836.1 139.67,835.03 140.94,833.95 142.21,832.88 143.49,831.81 144.76,830.73 146.03,829.66 147.3,828.58 148.57,827.51 149.84,826.43 151.12,825.36 152.39,824.28 153.66,823.21 154.93,822.14 156.2,821.06 157.47,819.99 158.74,818.91 160.02,817.84 161.29,816.76 162.56,815.69 163.83,814.62 165.1,813.54 166.37,812.47 167.64,811.39 168.92,810.32 170.19,809.24 171.46,808.17 172.73,807.09 174,806.02 175.27,804.95 176.55,803.87 177.82,802.8 179.09,801.72 180.36,800.65 181.63,799.57 182.9,798.5 184.17,797.42 185.45,796.35 186.72,795.28 187.99,794.2 189.26,793.13 190.53,792.05 191.8,790.98 193.07,789.9 194.35,788.83 195.62,787.75 196.89,786.68 198.16,785.61 199.43,784.53 200.7,783.46 201.98,782.38 203.25,781.31 204.52,780.23 205.79,779.16 207.06,778.09 208.33,777.01 209.6,775.94 210.88,774.86 212.15,773.79 213.42,772.71 214.69,771.64 215.96,770.56 217.23,769.49 218.5,768.42 219.78,767.34 221.05,766.27 222.32,765.19 223.59,764.12 224.86,763.04 226.13,761.97 227.41,760.89 228.68,759.82 229.95,758.75 231.22,757.67 232.49,756.6 233.76,755.52 235.03,754.45 236.31,753.37 237.58,752.3 238.85,751.22 240.12,750.15 241.39,749.08 242.66,748 243.93,746.93 245.21,745.85 246.48,744.78 247.75,743.7 249.02,742.63 250.29,741.55 251.56,740.48 252.84,739.4 254.11,738.33 255.38,737.26 256.65,736.18 257.92,735.11 259.19,734.03 260.46,732.96 261.74,731.88 263.01,730.81 264.28,729.73 265.55,728.66 266.82,727.58 268.09,726.51 269.36,725.44 270.64,724.36 271.91,723.29 273.18,722.21 274.45,721.14 275.72,720.06 276.99,718.99 278.26,717.91 279.54,716.84 280.81,715.76 282.08,714.69 283.35,713.61 284.62,712.54 285.89,711.47 287.17,710.39 288.44,709.32 289.71,708.24 290.98,707.17 292.25,706.09 293.52,705.02 294.79,703.94 296.07,702.87 297.34,701.79 298.61,700.72 299.88,699.64 301.15,698.57 302.42,697.49 303.69,696.42 304.97,695.34 306.24,694.27 307.51,693.19 308.78,692.12 310.05,691.04 311.32,689.97 312.6,688.89 313.87,687.82 315.14,686.75 316.41,685.67 317.68,684.6 318.95,683.52 320.22,682.45 321.5,681.37 322.77,680.3 324.04,679.22 325.31,678.14 326.58,677.07 327.85,675.99 329.12,674.92 330.4,673.84 331.67,672.77 332.94,671.69 334.21,670.62 335.48,669.54 336.75,668.47 338.03,667.39 339.3,666.32 340.57,665.24 341.84,664.17 343.11,663.09 344.38,662.02 345.65,660.94 346.93,659.86 348.2,658.79 349.47,657.71 350.74,656.64 352.01,655.56 353.28,654.49 354.56,653.41 355.83,652.33 357.1,651.26 358.37,650.18 359.64,649.11 360.91,648.03 362.18,646.96 363.46,645.88 364.73,644.8 366,643.73 367.27,642.65 368.54,641.57 369.81,640.5 371.08,639.42 372.36,638.35 373.63,637.27 374.9,636.19 376.17,635.12 377.44,634.04 378.71,632.96 379.99,631.89 381.26,630.81 382.53,629.73 383.8,628.65 385.07,627.58 386.34,626.5 387.61,625.42 388.89,624.35 390.16,623.27 391.43,622.19 392.7,621.11 393.97,620.04 395.24,618.96 396.51,617.88 397.79,616.8 399.06,615.72 400.33,614.64 401.6,613.57 402.87,612.49 404.14,611.41 405.41,610.33 406.69,609.25 407.96,608.17 409.23,607.09 410.5,606.01 411.77,604.94 413.04,603.86 414.32,602.78 415.59,601.7 416.86,600.62 418.13,599.54 419.4,598.46 420.67,597.37 421.94,596.29 423.22,595.21 424.49,594.13 425.76,593.05 427.03,591.97 428.3,590.89 429.57,589.81 430.85,588.72 432.12,587.64 433.39,586.56 434.66,585.48 435.93,584.39 437.2,583.31 438.47,582.23 439.75,581.14 441.02,580.06 442.29,578.97 443.56,577.89 444.83,576.8 446.1,575.72 447.37,574.63 448.65,573.55 449.92,572.46 451.19,571.38 452.46,570.29 453.73,569.2 455,568.11 456.27,567.03 457.55,565.94 458.82,564.85 460.09,563.76 461.36,562.67 462.63,561.58 463.9,560.49 465.18,559.4 466.45,558.31 467.72,557.21 468.99,556.12 470.26,555.03 471.53,553.94 472.8,552.84 474.08,551.75 475.35,550.65 476.62,549.56 477.89,548.46 479.16,547.36 480.43,546.26 481.71,545.17 482.98,544.07 484.25,542.97 485.52,541.87 486.79,540.77 488.06,539.66 489.33,538.56 490.61,537.46 491.88,536.35 493.15,535.25 494.42,534.14 495.69,533.03 496.96,531.93 498.23,530.82 499.51,529.71 500.78,528.6 502.05,527.48 503.32,526.37 504.59,525.26 505.86,524.14 507.13,523.03 508.41,521.91 509.68,520.79 510.95,519.67 512.22,518.55 513.49,517.43 514.76,516.3 516.04,515.18 517.31,514.05 518.58,512.92 519.85,511.79 521.12,510.66 522.39,509.53 523.66,508.39 524.94,507.26 526.21,506.12 527.48,504.98 528.75,503.84 530.02,502.7 531.29,501.55 532.57,500.4 533.84,499.26 535.11,498.1 536.38,496.95 537.65,495.8 538.92,494.64 540.19,493.48 541.47,492.32 542.74,491.15 544.01,489.99 545.28,488.82 546.55,487.65 547.82,486.47 549.09,485.3 550.37,484.12 551.64,482.94 552.91,481.75 554.18,480.56 555.45,479.37 556.72,478.18 558,476.98 559.27,475.78 560.54,474.58 561.81,473.37 563.08,472.16 564.35,470.95 565.62,469.73 566.9,468.51 568.17,467.29 569.44,466.06 570.71,464.83 571.98,463.59 573.25,462.35 574.52,461.11 575.8,459.86 577.07,458.61 578.34,457.35 579.61,456.09 580.88,454.83 582.15,453.56 583.42,452.28 584.7,451 585.97,449.72 587.24,448.43 588.51,447.14 589.78,445.84 591.05,444.53 592.33,443.23 593.6,441.91 594.87,440.59 596.14,439.27 597.41,437.93 598.68,436.6 599.95,435.25 601.23,433.91 602.5,432.55 603.77,431.19 605.04,429.83 606.31,428.45 607.58,427.07 608.86,425.69 610.13,424.3 611.4,422.9 612.67,421.5 613.94,420.09 615.21,418.67 616.48,417.24 617.76,415.81 619.03,414.37 620.3,412.93 621.57,411.48 622.84,410.02 624.11,408.55 625.38,407.08 626.66,405.6 627.93,404.11 629.2,402.61 630.47,401.11 631.74,399.6 633.01,398.08 634.28,396.56 635.56,395.02 636.83,393.48 638.1,391.93 639.37,390.38 640.64,388.82 641.91,387.24 643.19,385.67 644.46,384.08 645.73,382.49 647,380.88" fill="none" stroke="#ff00ff" stroke-width="3" stroke-dasharray="21.5 9.8" stroke-linecap="butt" stroke-linejoin="round"/>
<polyline points="138.4,401.95 169.02,401.95" fill="none" stroke="#ff0000" stroke-width="1.5" stroke-dasharray="4.00 3.30" stroke-linecap="butt" stroke-linejoin="round"/>
<polyline points="169.02,401.95 186.93,401.95" fill="none" stroke="#ff0000" stroke-width="1.5" stroke-dasharray="4.00 3.30" stroke-linecap="butt" stroke-linejoin="round"/>
<polyline points="186.93,401.95 209.5,401.94" fill="none" stroke="#ff0000" stroke-width="1.5" stroke-dasharray="4.00 3.30" stroke-linecap="butt" stroke-linejoin="round"/>
<polyline points="209.5,401.94 224.36,401.94" fill="none" stroke="#ff0000" stroke-width="1.5" stroke-dasharray="4.00 3.30" stroke-linecap="butt" stroke-linejoin="round"/>
<polyline points="224.36,401.94 240.12,401.93" fill="none" stroke="#ff0000" stroke-width="1.5" stroke-dasharray="4.00 3.30" stroke-linecap="butt" stroke-linejoin="round"/>
<polyline points="240.12,401.93 270.74,401.9" fill="none" stroke="#ff0000" stroke-width="1.5" stroke-dasharray="4.00 3.30" stroke-linecap="butt" stroke-linejoin="round"/>
<polyline points="270.74,401.9 288.65,401.88" fill="none" stroke="#ff0000" stroke-width="1.5" stroke-dasharray="4.00 3.30" stroke-linecap="butt" stroke-linejoin="round"/>
<polyline points="288.65,401.88 311.22,401.82" fill="none" stroke="#ff0000" stroke-width="1.5" stroke-dasharray="4.00 3.30" stroke-linecap="butt" stroke-linejoin="round"/>
<polyline points="311.22,401.82 326.08,401.77" fill="none" stroke="#ff0000" stroke-width="1.5" stroke-dasharray="4.00 3.30" stroke-linecap="butt" stroke-linejoin="round"/>
<polyline points="326.08,401.77 341.84,401.69" fill="none" stroke="#ff0000" stroke-width="1.5" stroke-dasharray="4.00 3.30" stroke-linecap="butt" stroke-linejoin="round"/>
<polyline points="341.84,401.69 372.46,401.42" fill="none" stroke="#ff0000" stroke-width="1.5" stroke-dasharray="4.00 3.30" stroke-linecap="butt" stroke-linejoin="round"/>
<polyline points="372.46,401.42 390.37,401.15" fill="none" stroke="#ff0000" stroke-width="1.5" stroke-dasharray="4.00 3.30" stroke-linecap="butt" stroke-linejoin="round"/>
<polyline points="390.37,401.15 412.94,400.61" fill="none" stroke="#ff0000" stroke-width="1.5" stroke-dasharray="4.00 3.30" stroke-linecap="butt" stroke-linejoin="round"/>
<polyline points="412.94,400.61 427.8,400.08" fill="none" stroke="#ff0000" stroke-width="1.5" stroke-dasharray="4.00 3.30" stroke-linecap="butt" stroke-linejoin="round"/>
<polyline points="427.8,400.08 443.56,399.28" fill="none" stroke="#ff0000" stroke-width="1.5" stroke-dasharray="3.99 3.31" stroke-linecap="butt" stroke-linejoin="round"/>
<polyline points="443.56,399.28 474.18,396.65" fill="none" stroke="#ff0000" stroke-width="1.5" stroke-dasharray="3.98 3.32" stroke-linecap="butt" stroke-linejoin="round"/>
<polyline points="474.18,396.65 492.09,394.08" fill="none" stroke="#ff0000" stroke-width="1.5" stroke-dasharray="3.95 3.35" stroke-linecap="butt" stroke-linejoin="round"/>
<polyline points="492.09,394.08 514.66,389.06" fill="none" stroke="#ff0000" stroke-width="1.5" stroke-dasharray="3.87 3.43" stroke-linecap="butt" stroke-linejoin="round"/>
<polyline points="514.66,389.06 529.52,384.23" fill="none" stroke="#ff0000" stroke-width="1.5" stroke-dasharray="3.74 3.56" stroke-linecap="butt" stroke-linejoin="round"/>
<polyline points="529.52,384.23 545.28,377.27" fill="none" stroke="#ff0000" stroke-width="1.5" stroke-dasharray="3.56 3.74" stroke-linecap="butt" stroke-linejoin="round"/>
<polyline points="545.28,377.27 575.9,356.34" fill="none" stroke="#ff0000" stroke-width="1.5" stroke-dasharray="3.14 4.16" stroke-linecap="butt" stroke-linejoin="round"/>
<polyline points="575.9,356.34 593.81,338.17" fill="none" stroke="#ff0000" stroke-width="1.5" stroke-dasharray="2.63 4.67" stroke-linecap="butt" stroke-linejoin="round"/>
<polyline points="593.81,338.17 616.38,307.72" fill="none" stroke="#ff0000" stroke-width="1.5" stroke-dasharray="2.26 5.04" stroke-linecap="butt" stroke-linejoin="round"/>
<polyline points="616.38,307.72 631.24,282.79" fill="none" stroke="#ff0000" stroke-width="1.5" stroke-dasharray="2.01 5.29" stroke-linecap="butt" stroke-linejoin="round"/>
<polyline points="631.24,282.79 647,252.23" fill="none" stroke="#ff0000" stroke-width="1.5" stroke-dasharray="1.87 5.43" stroke-linecap="butt" stroke-linejoin="round"/>
<path d="M138.4,395.85 L145,409.65 L131.8,409.65 Z" fill="none" stroke="#ff0000" stroke-width="2.0" stroke-linejoin="miter" stroke-miterlimit="10"/>
<path d="M169.02,395.85 L175.62,409.65 L162.42,409.65 Z" fill="none" stroke="#ff0000" stroke-width="2.0" stroke-linejoin="miter" stroke-miterlimit="10"/>
<path d="M186.93,395.85 L193.53,409.65 L180.33,409.65 Z" fill="none" stroke="#ff0000" stroke-width="2.0" stroke-linejoin="miter" stroke-miterlimit="10"/>
<path d="M209.5,395.84 L216.1,409.64 L202.9,409.64 Z" fill="none" stroke="#ff0000" stroke-width="2.0" stroke-linejoin="miter" stroke-miterlimit="10"/>
<path d="M224.36,395.84 L230.96,409.64 L217.76,409.64 Z" fill="none" stroke="#ff0000" stroke-width="2.0" stroke-linejoin="miter" stroke-miterlimit="10"/>
<path d="M240.12,395.83 L246.72,409.63 L233.52,409.63 Z" fill="none" stroke="#ff0000" stroke-width="2.0" stroke-linejoin="miter" stroke-miterlimit="10"/>
<path d="M270.74,395.8 L277.34,409.6 L264.14,409.6 Z" fill="none" stroke="#ff0000" stroke-width="2.0" stroke-linejoin="miter" stroke-miterlimit="10"/>
<path d="M288.65,395.78 L295.25,409.58 L282.05,409.58 Z" fill="none" stroke="#ff0000" stroke-width="2.0" stroke-linejoin="miter" stroke-miterlimit="10"/>
<path d="M311.22,395.72 L317.82,409.52 L304.62,409.52 Z" fill="none" stroke="#ff0000" stroke-width="2.0" stroke-linejoin="miter" stroke-miterlimit="10"/>
<path d="M326.08,395.67 L332.68,409.47 L319.48,409.47 Z" fill="none" stroke="#ff0000" stroke-width="2.0" stroke-linejoin="miter" stroke-miterlimit="10"/>
<path d="M341.84,395.59 L348.44,409.39 L335.24,409.39 Z" fill="none" stroke="#ff0000" stroke-width="2.0" stroke-linejoin="miter" stroke-miterlimit="10"/>
<path d="M372.46,395.32 L379.06,409.12 L365.86,409.12 Z" fill="none" stroke="#ff0000" stroke-width="2.0" stroke-linejoin="miter" stroke-miterlimit="10"/>
<path d="M390.37,395.05 L396.97,408.85 L383.77,408.85 Z" fill="none" stroke="#ff0000" stroke-width="2.0" stroke-linejoin="miter" stroke-miterlimit="10"/>
<path d="M412.94,394.51 L419.54,408.31 L406.34,408.31 Z" fill="none" stroke="#ff0000" stroke-width="2.0" stroke-linejoin="miter" stroke-miterlimit="10"/>
<path d="M427.8,393.98 L434.4,407.78 L421.2,407.78 Z" fill="none" stroke="#ff0000" stroke-width="2.0" stroke-linejoin="miter" stroke-miterlimit="10"/>
<path d="M443.56,393.18 L450.16,406.98 L436.96,406.98 Z" fill="none" stroke="#ff0000" stroke-width="2.0" stroke-linejoin="miter" stroke-miterlimit="10"/>
<path d="M474.18,390.55 L480.78,404.35 L467.58,404.35 Z" fill="none" stroke="#ff0000" stroke-width="2.0" stroke-linejoin="miter" stroke-miterlimit="10"/>
<path d="M492.09,387.98 L498.69,401.78 L485.49,401.78 Z" fill="none" stroke="#ff0000" stroke-width="2.0" stroke-linejoin="miter" stroke-miterlimit="10"/>
<path d="M514.66,382.96 L521.26,396.76 L508.06,396.76 Z" fill="none" stroke="#ff0000" stroke-width="2.0" stroke-linejoin="miter" stroke-miterlimit="10"/>
<path d="M529.52,378.13 L536.12,391.93 L522.92,391.93 Z" fill="none" stroke="#ff0000" stroke-width="2.0" stroke-linejoin="miter" stroke-miterlimit="10"/>
<path d="M545.28,371.17 L551.88,384.97 L538.68,384.97 Z" fill="none" stroke="#ff0000" stroke-width="2.0" stroke-linejoin="miter" stroke-miterlimit="10"/>
<path d="M575.9,350.24 L582.5,364.04 L569.3,364.04 Z" fill="none" stroke="#ff0000" stroke-width="2.0" stroke-linejoin="miter" stroke-miterlimit="10"/>
<path d="M593.81,332.07 L600.41,345.87 L587.21,345.87 Z" fill="none" stroke="#ff0000" stroke-width="2.0" stroke-linejoin="miter" stroke-miterlimit="10"/>
<path d="M616.38,301.62 L622.98,315.42 L609.78,315.42 Z" fill="none" stroke="#ff0000" stroke-width="2.0" stroke-linejoin="miter" stroke-miterlimit="10"/>
<path d="M631.24,276.69 L637.84,290.49 L624.64,290.49 Z" fill="none" stroke="#ff0000" stroke-width="2.0" stroke-linejoin="miter" stroke-miterlimit="10"/>
<path d="M647,246.13 L653.6,259.93 L640.4,259.93 Z" fill="none" stroke="#ff0000" stroke-width="2.0" stroke-linejoin="miter" stroke-miterlimit="10"/>
<polyline points="138.4,497.68 169.02,497.68" fill="none" stroke="#0000ff" stroke-width="1.5" stroke-dasharray="4.00 3.30" stroke-linecap="butt" stroke-linejoin="round"/>
<polyline points="169.02,497.68 186.93,497.68" fill="none" stroke="#0000ff" stroke-width="1.5" stroke-dasharray="4.00 3.30" stroke-linecap="butt" stroke-linejoin="round"/>
<polyline points="186.93,497.68 209.5,497.67" fill="none" stroke="#0000ff" stroke-width="1.5" stroke-dasharray="4.00 3.30" stroke-linecap="butt" stroke-linejoin="round"/>
<polyline points="209.5,497.67 224.36,497.66" fill="none" stroke="#0000ff" stroke-width="1.5" stroke-dasharray="4.00 3.30" stroke-linecap="butt" stroke-linejoin="round"/>
<polyline points="224.36,497.66 240.12,497.66" fill="none" stroke="#0000ff" stroke-width="1.5" stroke-dasharray="4.00 3.30" stroke-linecap="butt" stroke-linejoin="round"/>
<polyline points="240.12,497.66 270.74,497.63" fill="none" stroke="#0000ff" stroke-width="1.5" stroke-dasharray="4.00 3.30" stroke-linecap="butt" stroke-linejoin="round"/>
<polyline points="270.74,497.63 288.65,497.6" fill="none" stroke="#0000ff" stroke-width="1.5" stroke-dasharray="4.00 3.30" stroke-linecap="butt" stroke-linejoin="round"/>
<polyline points="288.65,497.6 311.22,497.55" fill="none" stroke="#0000ff" stroke-width="1.5" stroke-dasharray="4.00 3.30" stroke-linecap="butt" stroke-linejoin="round"/>
<polyline points="311.22,497.55 326.08,497.49" fill="none" stroke="#0000ff" stroke-width="1.5" stroke-dasharray="4.00 3.30" stroke-linecap="butt" stroke-linejoin="round"/>
<polyline points="326.08,497.49 341.84,497.41" fill="none" stroke="#0000ff" stroke-width="1.5" stroke-dasharray="4.00 3.30" stroke-linecap="butt" stroke-linejoin="round"/>
<polyline points="341.84,497.41 372.46,497.14" fill="none" stroke="#0000ff" stroke-width="1.5" stroke-dasharray="4.00 3.30" stroke-linecap="butt" stroke-linejoin="round"/>
<polyline points="372.46,497.14 390.37,496.88" fill="none" stroke="#0000ff" stroke-width="1.5" stroke-dasharray="4.00 3.30" stroke-linecap="butt" stroke-linejoin="round"/>
<polyline points="390.37,496.88 412.94,496.34" fill="none" stroke="#0000ff" stroke-width="1.5" stroke-dasharray="4.00 3.30" stroke-linecap="butt" stroke-linejoin="round"/>
<polyline points="412.94,496.34 427.8,495.8" fill="none" stroke="#0000ff" stroke-width="1.5" stroke-dasharray="4.00 3.30" stroke-linecap="butt" stroke-linejoin="round"/>
<polyline points="427.8,495.8 443.56,495.01" fill="none" stroke="#0000ff" stroke-width="1.5" stroke-dasharray="3.99 3.31" stroke-linecap="butt" stroke-linejoin="round"/>
<polyline points="443.56,495.01 474.18,492.38" fill="none" stroke="#0000ff" stroke-width="1.5" stroke-dasharray="3.98 3.32" stroke-linecap="butt" stroke-linejoin="round"/>
<polyline points="474.18,492.38 492.09,489.8" fill="none" stroke="#0000ff" stroke-width="1.5" stroke-dasharray="3.95 3.35" stroke-linecap="butt" stroke-linejoin="round"/>
<polyline points="492.09,489.8 514.66,484.79" fill="none" stroke="#0000ff" stroke-width="1.5" stroke-dasharray="3.87 3.43" stroke-linecap="butt" stroke-linejoin="round"/>
<polyline points="514.66,484.79 529.52,479.95" fill="none" stroke="#0000ff" stroke-width="1.5" stroke-dasharray="3.74 3.56" stroke-linecap="butt" stroke-linejoin="round"/>
<polyline points="529.52,479.95 545.28,473" fill="none" stroke="#0000ff" stroke-width="1.5" stroke-dasharray="3.56 3.74" stroke-linecap="butt" stroke-linejoin="round"/>
<polyline points="545.28,473 575.9,452.07" fill="none" stroke="#0000ff" stroke-width="1.5" stroke-dasharray="3.14 4.16" stroke-linecap="butt" stroke-linejoin="round"/>
<polyline points="575.9,452.07 593.81,433.89" fill="none" stroke="#0000ff" stroke-width="1.5" stroke-dasharray="2.63 4.67" stroke-linecap="butt" stroke-linejoin="round"/>
<polyline points="593.81,433.89 616.38,403.45" fill="none" stroke="#0000ff" stroke-width="1.5" stroke-dasharray="2.26 5.04" stroke-linecap="butt" stroke-linejoin="round"/>
<polyline points="616.38,403.45 631.24,378.52" fill="none" stroke="#0000ff" stroke-width="1.5" stroke-dasharray="2.01 5.29" stroke-linecap="butt" stroke-linejoin="round"/>
<polyline points="631.24,378.52 647,347.96" fill="none" stroke="#0000ff" stroke-width="1.5" stroke-dasharray="1.87 5.43" stroke-linecap="butt" stroke-linejoin="round"/>
<rect x="131.2" y="490.48" width="14.4" height="14.4" fill="none" stroke="#0000ff" stroke-width="2.2"/>
<rect x="161.82" y="490.48" width="14.4" height="14.4" fill="none" stroke="#0000ff" stroke-width="2.2"/>
<rect x="179.73" y="490.48" width="14.4" height="14.4" fill="none" stroke="#0000ff" stroke-width="2.2"/>
<rect x="202.3" y="490.47" width="14.4" height="14.4" fill="none" stroke="#0000ff" stroke-width="2.2"/>
<rect x="217.16" y="490.46" width="14.4" height="14.4" fill="none" stroke="#0000ff" stroke-width="2.2"/>
<rect x="232.92" y="490.46" width="14.4" height="14.4" fill="none" stroke="#0000ff" stroke-width="2.2"/>
<rect x="263.54" y="490.43" width="14.4" height="14.4" fill="none" stroke="#0000ff" stroke-width="2.2"/>
<rect x="281.45" y="490.4" width="14.4" height="14.4" fill="none" stroke="#0000ff" stroke-width="2.2"/>
<rect x="304.02" y="490.35" width="14.4" height="14.4" fill="none" stroke="#0000ff" stroke-width="2.2"/>
<rect x="318.88" y="490.29" width="14.4" height="14.4" fill="none" stroke="#0000ff" stroke-width="2.2"/>
<rect x="334.64" y="490.21" width="14.4" height="14.4" fill="none" stroke="#0000ff" stroke-width="2.2"/>
<rect x="365.26" y="489.94" width="14.4" height="14.4" fill="none" stroke="#0000ff" stroke-width="2.2"/>
<rect x="383.17" y="489.68" width="14.4" height="14.4" fill="none" stroke="#0000ff" stroke-width="2.2"/>
<rect x="405.74" y="489.14" width="14.4" height="14.4" fill="none" stroke="#0000ff" stroke-width="2.2"/>
<rect x="420.6" y="488.6" width="14.4" height="14.4" fill="none" stroke="#0000ff" stroke-width="2.2"/>
<rect x="436.36" y="487.81" width="14.4" height="14.4" fill="none" stroke="#0000ff" stroke-width="2.2"/>
<rect x="466.98" y="485.18" width="14.4" height="14.4" fill="none" stroke="#0000ff" stroke-width="2.2"/>
<rect x="484.89" y="482.6" width="14.4" height="14.4" fill="none" stroke="#0000ff" stroke-width="2.2"/>
<rect x="507.46" y="477.59" width="14.4" height="14.4" fill="none" stroke="#0000ff" stroke-width="2.2"/>
<rect x="522.32" y="472.75" width="14.4" height="14.4" fill="none" stroke="#0000ff" stroke-width="2.2"/>
<rect x="538.08" y="465.8" width="14.4" height="14.4" fill="none" stroke="#0000ff" stroke-width="2.2"/>
<rect x="568.7" y="444.87" width="14.4" height="14.4" fill="none" stroke="#0000ff" stroke-width="2.2"/>
<rect x="586.61" y="426.69" width="14.4" height="14.4" fill="none" stroke="#0000ff" stroke-width="2.2"/>
<rect x="609.18" y="396.25" width="14.4" height="14.4" fill="none" stroke="#0000ff" stroke-width="2.2"/>
<rect x="624.04" y="371.32" width="14.4" height="14.4" fill="none" stroke="#0000ff" stroke-width="2.2"/>
<rect x="639.8" y="340.76" width="14.4" height="14.4" fill="none" stroke="#0000ff" stroke-width="2.2"/>
<polyline points="138.4,568.23 169.02,568.23" fill="none" stroke="#006400" stroke-width="1.5" stroke-dasharray="4.00 3.30" stroke-linecap="butt" stroke-linejoin="round"/>
<polyline points="169.02,568.23 186.93,568.22" fill="none" stroke="#006400" stroke-width="1.5" stroke-dasharray="4.00 3.30" stroke-linecap="butt" stroke-linejoin="round"/>
<polyline points="186.93,568.22 209.5,568.22" fill="none" stroke="#006400" stroke-width="1.5" stroke-dasharray="4.00 3.30" stroke-linecap="butt" stroke-linejoin="round"/>
<polyline points="209.5,568.22 224.36,568.21" fill="none" stroke="#006400" stroke-width="1.5" stroke-dasharray="4.00 3.30" stroke-linecap="butt" stroke-linejoin="round"/>
<polyline points="224.36,568.21 240.12,568.2" fill="none" stroke="#006400" stroke-width="1.5" stroke-dasharray="4.00 3.30" stroke-linecap="butt" stroke-linejoin="round"/>
<polyline points="240.12,568.2 270.74,568.18" fill="none" stroke="#006400" stroke-width="1.5" stroke-dasharray="4.00 3.30" stroke-linecap="butt" stroke-linejoin="round"/>
<polyline points="270.74,568.18 288.65,568.15" fill="none" stroke="#006400" stroke-width="1.5" stroke-dasharray="4.00 3.30" stroke-linecap="butt" stroke-linejoin="round"/>
<polyline points="288.65,568.15 311.22,568.1" fill="none" stroke="#006400" stroke-width="1.5" stroke-dasharray="4.00 3.30" stroke-linecap="butt" stroke-linejoin="round"/>
<polyline points="311.22,568.1 326.08,568.04" fill="none" stroke="#006400" stroke-width="1.5" stroke-dasharray="4.00 3.30" stroke-linecap="butt" stroke-linejoin="round"/>
<polyline points="326.08,568.04 341.84,567.96" fill="none" stroke="#006400" stroke-width="1.5" stroke-dasharray="4.00 3.30" stroke-linecap="butt" stroke-linejoin="round"/>
<polyline points="341.84,567.96 372.46,567.69" fill="none" stroke="#006400" stroke-width="1.5" stroke-dasharray="4.00 3.30" stroke-linecap="butt" stroke-linejoin="round"/>
<polyline points="372.46,567.69 390.37,567.42" fill="none" stroke="#006400" stroke-width="1.5" stroke-dasharray="4.00 3.30" stroke-linecap="butt" stroke-linejoin="round"/>
<polyline points="390.37,567.42 412.94,566.89" fill="none" stroke="#006400" stroke-width="1.5" stroke-dasharray="4.00 3.30" stroke-linecap="butt" stroke-linejoin="round"/>
<polyline points="412.94,566.89 427.8,566.35" fill="none" stroke="#006400" stroke-width="1.5" stroke-dasharray="4.00 3.30" stroke-linecap="butt" stroke-linejoin="round"/>
<polyline points="427.8,566.35 443.56,565.56" fill="none" stroke="#006400" stroke-width="1.5" stroke-dasharray="3.99 3.31" stroke-linecap="butt" stroke-linejoin="round"/>
<polyline points="443.56,565.56 474.18,562.93" fill="none" stroke="#006400" stroke-width="1.5" stroke-dasharray="3.98 3.32" stroke-linecap="butt" stroke-linejoin="round"/>
<polyline points="474.18,562.93 492.09,560.35" fill="none" stroke="#006400" stroke-width="1.5" stroke-dasharray="3.95 3.35" stroke-linecap="butt" stroke-linejoin="round"/>
<polyline points="492.09,560.35 514.66,555.34" fill="none" stroke="#006400" stroke-width="1.5" stroke-dasharray="3.87 3.43" stroke-linecap="butt" stroke-linejoin="round"/>
<polyline points="514.66,555.34 529.52,550.5" fill="none" stroke="#006400" stroke-width="1.5" stroke-dasharray="3.74 3.56" stroke-linecap="butt" stroke-linejoin="round"/>
<polyline points="529.52,550.5 545.28,543.55" fill="none" stroke="#006400" stroke-width="1.5" stroke-dasharray="3.56 3.74" stroke-linecap="butt" stroke-linejoin="round"/>
<polyline points="545.28,543.55 575.9,522.62" fill="none" stroke="#006400" stroke-width="1.5" stroke-dasharray="3.14 4.16" stroke-linecap="butt" stroke-linejoin="round"/>
<polyline points="575.9,522.62 593.81,504.44" fill="none" stroke="#006400" stroke-width="1.5" stroke-dasharray="2.63 4.67" stroke-linecap="butt" stroke-linejoin="round"/>
<polyline points="593.81,504.44 616.38,474" fill="none" stroke="#006400" stroke-width="1.5" stroke-dasharray="2.26 5.04" stroke-linecap="butt" stroke-linejoin="round"/>
<polyline points="616.38,474 631.24,449.07" fill="none" stroke="#006400" stroke-width="1.5" stroke-dasharray="2.01 5.29" stroke-linecap="butt" stroke-linejoin="round"/>
<polyline points="631.24,449.07 647,418.5" fill="none" stroke="#006400" stroke-width="1.5" stroke-dasharray="1.87 5.43" stroke-linecap="butt" stroke-linejoin="round"/>
<path d="M138.4,559.23 L147.4,568.23 L138.4,577.23 L129.4,568.23 Z" fill="none" stroke="#006400" stroke-width="2.0" stroke-miterlimit="10"/>
<path d="M169.02,559.23 L178.02,568.23 L169.02,577.23 L160.02,568.23 Z" fill="none" stroke="#006400" stroke-width="2.0" stroke-miterlimit="10"/>
<path d="M186.93,559.22 L195.93,568.22 L186.93,577.22 L177.93,568.22 Z" fill="none" stroke="#006400" stroke-width="2.0" stroke-miterlimit="10"/>
<path d="M209.5,559.22 L218.5,568.22 L209.5,577.22 L200.5,568.22 Z" fill="none" stroke="#006400" stroke-width="2.0" stroke-miterlimit="10"/>
<path d="M224.36,559.21 L233.36,568.21 L224.36,577.21 L215.36,568.21 Z" fill="none" stroke="#006400" stroke-width="2.0" stroke-miterlimit="10"/>
<path d="M240.12,559.2 L249.12,568.2 L240.12,577.2 L231.12,568.2 Z" fill="none" stroke="#006400" stroke-width="2.0" stroke-miterlimit="10"/>
<path d="M270.74,559.18 L279.74,568.18 L270.74,577.18 L261.74,568.18 Z" fill="none" stroke="#006400" stroke-width="2.0" stroke-miterlimit="10"/>
<path d="M288.65,559.15 L297.65,568.15 L288.65,577.15 L279.65,568.15 Z" fill="none" stroke="#006400" stroke-width="2.0" stroke-miterlimit="10"/>
<path d="M311.22,559.1 L320.22,568.1 L311.22,577.1 L302.22,568.1 Z" fill="none" stroke="#006400" stroke-width="2.0" stroke-miterlimit="10"/>
<path d="M326.08,559.04 L335.08,568.04 L326.08,577.04 L317.08,568.04 Z" fill="none" stroke="#006400" stroke-width="2.0" stroke-miterlimit="10"/>
<path d="M341.84,558.96 L350.84,567.96 L341.84,576.96 L332.84,567.96 Z" fill="none" stroke="#006400" stroke-width="2.0" stroke-miterlimit="10"/>
<path d="M372.46,558.69 L381.46,567.69 L372.46,576.69 L363.46,567.69 Z" fill="none" stroke="#006400" stroke-width="2.0" stroke-miterlimit="10"/>
<path d="M390.37,558.42 L399.37,567.42 L390.37,576.42 L381.37,567.42 Z" fill="none" stroke="#006400" stroke-width="2.0" stroke-miterlimit="10"/>
<path d="M412.94,557.89 L421.94,566.89 L412.94,575.89 L403.94,566.89 Z" fill="none" stroke="#006400" stroke-width="2.0" stroke-miterlimit="10"/>
<path d="M427.8,557.35 L436.8,566.35 L427.8,575.35 L418.8,566.35 Z" fill="none" stroke="#006400" stroke-width="2.0" stroke-miterlimit="10"/>
<path d="M443.56,556.56 L452.56,565.56 L443.56,574.56 L434.56,565.56 Z" fill="none" stroke="#006400" stroke-width="2.0" stroke-miterlimit="10"/>
<path d="M474.18,553.93 L483.18,562.93 L474.18,571.93 L465.18,562.93 Z" fill="none" stroke="#006400" stroke-width="2.0" stroke-miterlimit="10"/>
<path d="M492.09,551.35 L501.09,560.35 L492.09,569.35 L483.09,560.35 Z" fill="none" stroke="#006400" stroke-width="2.0" stroke-miterlimit="10"/>
<path d="M514.66,546.34 L523.66,555.34 L514.66,564.34 L505.66,555.34 Z" fill="none" stroke="#006400" stroke-width="2.0" stroke-miterlimit="10"/>
<path d="M529.52,541.5 L538.52,550.5 L529.52,559.5 L520.52,550.5 Z" fill="none" stroke="#006400" stroke-width="2.0" stroke-miterlimit="10"/>
<path d="M545.28,534.55 L554.28,543.55 L545.28,552.55 L536.28,543.55 Z" fill="none" stroke="#006400" stroke-width="2.0" stroke-miterlimit="10"/>
<path d="M575.9,513.62 L584.9,522.62 L575.9,531.62 L566.9,522.62 Z" fill="none" stroke="#006400" stroke-width="2.0" stroke-miterlimit="10"/>
<path d="M593.81,495.44 L602.81,504.44 L593.81,513.44 L584.81,504.44 Z" fill="none" stroke="#006400" stroke-width="2.0" stroke-miterlimit="10"/>
<path d="M616.38,465 L625.38,474 L616.38,483 L607.38,474 Z" fill="none" stroke="#006400" stroke-width="2.0" stroke-miterlimit="10"/>
<path d="M631.24,440.07 L640.24,449.07 L631.24,458.07 L622.24,449.07 Z" fill="none" stroke="#006400" stroke-width="2.0" stroke-miterlimit="10"/>
<path d="M647,409.5 L656,418.5 L647,427.5 L638,418.5 Z" fill="none" stroke="#006400" stroke-width="2.0" stroke-miterlimit="10"/>
<polyline points="138.4,663.96 169.02,663.95" fill="none" stroke="#ff00ff" stroke-width="1.5" stroke-dasharray="4.00 3.30" stroke-linecap="butt" stroke-linejoin="round"/>
<polyline points="169.02,663.95 186.93,663.95" fill="none" stroke="#ff00ff" stroke-width="1.5" stroke-dasharray="4.00 3.30" stroke-linecap="butt" stroke-linejoin="round"/>
<polyline points="186.93,663.95 209.5,663.95" fill="none" stroke="#ff00ff" stroke-width="1.5" stroke-dasharray="4.00 3.30" stroke-linecap="butt" stroke-linejoin="round"/>
<polyline points="209.5,663.95 224.36,663.94" fill="none" stroke="#ff00ff" stroke-width="1.5" stroke-dasharray="4.00 3.30" stroke-linecap="butt" stroke-linejoin="round"/>
<polyline points="224.36,663.94 240.12,663.93" fill="none" stroke="#ff00ff" stroke-width="1.5" stroke-dasharray="4.00 3.30" stroke-linecap="butt" stroke-linejoin="round"/>
<polyline points="240.12,663.93 270.74,663.91" fill="none" stroke="#ff00ff" stroke-width="1.5" stroke-dasharray="4.00 3.30" stroke-linecap="butt" stroke-linejoin="round"/>
<polyline points="270.74,663.91 288.65,663.88" fill="none" stroke="#ff00ff" stroke-width="1.5" stroke-dasharray="4.00 3.30" stroke-linecap="butt" stroke-linejoin="round"/>
<polyline points="288.65,663.88 311.22,663.82" fill="none" stroke="#ff00ff" stroke-width="1.5" stroke-dasharray="4.00 3.30" stroke-linecap="butt" stroke-linejoin="round"/>
<polyline points="311.22,663.82 326.08,663.77" fill="none" stroke="#ff00ff" stroke-width="1.5" stroke-dasharray="4.00 3.30" stroke-linecap="butt" stroke-linejoin="round"/>
<polyline points="326.08,663.77 341.84,663.69" fill="none" stroke="#ff00ff" stroke-width="1.5" stroke-dasharray="4.00 3.30" stroke-linecap="butt" stroke-linejoin="round"/>
<polyline points="341.84,663.69 372.46,663.42" fill="none" stroke="#ff00ff" stroke-width="1.5" stroke-dasharray="4.00 3.30" stroke-linecap="butt" stroke-linejoin="round"/>
<polyline points="372.46,663.42 390.37,663.15" fill="none" stroke="#ff00ff" stroke-width="1.5" stroke-dasharray="4.00 3.30" stroke-linecap="butt" stroke-linejoin="round"/>
<polyline points="390.37,663.15 412.94,662.61" fill="none" stroke="#ff00ff" stroke-width="1.5" stroke-dasharray="4.00 3.30" stroke-linecap="butt" stroke-linejoin="round"/>
<polyline points="412.94,662.61 427.8,662.08" fill="none" stroke="#ff00ff" stroke-width="1.5" stroke-dasharray="4.00 3.30" stroke-linecap="butt" stroke-linejoin="round"/>
<polyline points="427.8,662.08 443.56,661.28" fill="none" stroke="#ff00ff" stroke-width="1.5" stroke-dasharray="3.99 3.31" stroke-linecap="butt" stroke-linejoin="round"/>
<polyline points="443.56,661.28 474.18,658.66" fill="none" stroke="#ff00ff" stroke-width="1.5" stroke-dasharray="3.98 3.32" stroke-linecap="butt" stroke-linejoin="round"/>
<polyline points="474.18,658.66 492.09,656.08" fill="none" stroke="#ff00ff" stroke-width="1.5" stroke-dasharray="3.95 3.35" stroke-linecap="butt" stroke-linejoin="round"/>
<polyline points="492.09,656.08 514.66,651.07" fill="none" stroke="#ff00ff" stroke-width="1.5" stroke-dasharray="3.87 3.43" stroke-linecap="butt" stroke-linejoin="round"/>
<polyline points="514.66,651.07 529.52,646.23" fill="none" stroke="#ff00ff" stroke-width="1.5" stroke-dasharray="3.74 3.56" stroke-linecap="butt" stroke-linejoin="round"/>
<polyline points="529.52,646.23 545.28,639.28" fill="none" stroke="#ff00ff" stroke-width="1.5" stroke-dasharray="3.56 3.74" stroke-linecap="butt" stroke-linejoin="round"/>
<polyline points="545.28,639.28 575.9,618.34" fill="none" stroke="#ff00ff" stroke-width="1.5" stroke-dasharray="3.14 4.16" stroke-linecap="butt" stroke-linejoin="round"/>
<polyline points="575.9,618.34 593.81,600.17" fill="none" stroke="#ff00ff" stroke-width="1.5" stroke-dasharray="2.63 4.67" stroke-linecap="butt" stroke-linejoin="round"/>
<polyline points="593.81,600.17 616.38,569.73" fill="none" stroke="#ff00ff" stroke-width="1.5" stroke-dasharray="2.26 5.04" stroke-linecap="butt" stroke-linejoin="round"/>
<polyline points="616.38,569.73 631.24,544.8" fill="none" stroke="#ff00ff" stroke-width="1.5" stroke-dasharray="2.01 5.29" stroke-linecap="butt" stroke-linejoin="round"/>
<polyline points="631.24,544.8 647,514.23" fill="none" stroke="#ff00ff" stroke-width="1.5" stroke-dasharray="1.87 5.43" stroke-linecap="butt" stroke-linejoin="round"/>
<circle cx="138.4" cy="663.96" r="7.3" fill="none" stroke="#ff00ff" stroke-width="2.0"/>
<circle cx="169.02" cy="663.95" r="7.3" fill="none" stroke="#ff00ff" stroke-width="2.0"/>
<circle cx="186.93" cy="663.95" r="7.3" fill="none" stroke="#ff00ff" stroke-width="2.0"/>
<circle cx="209.5" cy="663.95" r="7.3" fill="none" stroke="#ff00ff" stroke-width="2.0"/>
<circle cx="224.36" cy="663.94" r="7.3" fill="none" stroke="#ff00ff" stroke-width="2.0"/>
<circle cx="240.12" cy="663.93" r="7.3" fill="none" stroke="#ff00ff" stroke-width="2.0"/>
<circle cx="270.74" cy="663.91" r="7.3" fill="none" stroke="#ff00ff" stroke-width="2.0"/>
<circle cx="288.65" cy="663.88" r="7.3" fill="none" stroke="#ff00ff" stroke-width="2.0"/>
<circle cx="311.22" cy="663.82" r="7.3" fill="none" stroke="#ff00ff" stroke-width="2.0"/>
<circle cx="326.08" cy="663.77" r="7.3" fill="none" stroke="#ff00ff" stroke-width="2.0"/>
<circle cx="341.84" cy="663.69" r="7.3" fill="none" stroke="#ff00ff" stroke-width="2.0"/>
<circle cx="372.46" cy="663.42" r="7.3" fill="none" stroke="#ff00ff" stroke-width="2.0"/>
<circle cx="390.37" cy="663.15" r="7.3" fill="none" stroke="#ff00ff" stroke-width="2.0"/>
<circle cx="412.94" cy="662.61" r="7.3" fill="none" stroke="#ff00ff" stroke-width="2.0"/>
<circle cx="427.8" cy="662.08" r="7.3" fill="none" stroke="#ff00ff" stroke-width="2.0"/>
<circle cx="443.56" cy="661.28" r="7.3" fill="none" stroke="#ff00ff" stroke-width="2.0"/>
<circle cx="474.18" cy="658.66" r="7.3" fill="none" stroke="#ff00ff" stroke-width="2.0"/>
<circle cx="492.09" cy="656.08" r="7.3" fill="none" stroke="#ff00ff" stroke-width="2.0"/>
<circle cx="514.66" cy="651.07" r="7.3" fill="none" stroke="#ff00ff" stroke-width="2.0"/>
<circle cx="529.52" cy="646.23" r="7.3" fill="none" stroke="#ff00ff" stroke-width="2.0"/>
<circle cx="545.28" cy="639.28" r="7.3" fill="none" stroke="#ff00ff" stroke-width="2.0"/>
<circle cx="575.9" cy="618.34" r="7.3" fill="none" stroke="#ff00ff" stroke-width="2.0"/>
<circle cx="593.81" cy="600.17" r="7.3" fill="none" stroke="#ff00ff" stroke-width="2.0"/>
<circle cx="616.38" cy="569.73" r="7.3" fill="none" stroke="#ff00ff" stroke-width="2.0"/>
<circle cx="631.24" cy="544.8" r="7.3" fill="none" stroke="#ff00ff" stroke-width="2.0"/>
<circle cx="647" cy="514.23" r="7.3" fill="none" stroke="#ff00ff" stroke-width="2.0"/>
<text transform="translate(70.13,218.4) scale(0.9750,1)" font-size="37">10</text>
<text transform="translate(109.22,207.5) scale(0.9600,1)" font-size="24.5">2</text>
<text transform="translate(71.93,536.7) scale(0.9750,1)" font-size="37">10</text>
<text transform="translate(112.41,526) scale(0.9600,1)" font-size="24.5">1</text>
<text transform="translate(71.93,854.8) scale(0.9750,1)" font-size="37">10</text>
<text transform="translate(112.28,844.6) scale(0.9600,1)" font-size="24.5">0</text>
<text transform="translate(659.03,340.7) scale(0.9750,1)" font-size="37">10</text>
<text transform="translate(699.28,330.3) scale(0.9600,1)" font-size="24.5">0</text>
<text transform="translate(659.03,513.7) scale(0.9750,1)" font-size="37">10</text>
<text transform="translate(698.85,502.5) scale(0.9600,1)" font-size="24.5">-1</text>
<text transform="translate(659.03,685.7) scale(0.9750,1)" font-size="37">10</text>
<text transform="translate(698.85,675) scale(0.9600,1)" font-size="24.5">-2</text>
<text transform="translate(659.33,857.5) scale(0.9750,1)" font-size="37">10</text>
<text transform="translate(699.15,846.9) scale(0.9600,1)" font-size="24.5">-3</text>
<text transform="translate(113.83,897) scale(0.9750,1)" font-size="37">10</text>
<text transform="translate(153.55,885.6) scale(0.9600,1)" font-size="24.5">-2</text>
<text transform="translate(216.63,897) scale(0.9750,1)" font-size="37">10</text>
<text transform="translate(255.25,885.6) scale(0.9600,1)" font-size="24.5">-1</text>
<text transform="translate(319.53,897) scale(0.9750,1)" font-size="37">10</text>
<text transform="translate(360.58,885.6) scale(0.9600,1)" font-size="24.5">0</text>
<text transform="translate(422.53,897) scale(0.9750,1)" font-size="37">10</text>
<text transform="translate(465.21,885.6) scale(0.9600,1)" font-size="24.5">1</text>
<text transform="translate(525.33,897) scale(0.9750,1)" font-size="37">10</text>
<text transform="translate(566.22,885.6) scale(0.9600,1)" font-size="24.5">2</text>
<text transform="translate(629.03,897) scale(0.9750,1)" font-size="37">10</text>
<text transform="translate(670.1,885.6) scale(0.9600,1)" font-size="24.5">3</text>
<text transform="translate(33.6,623.2) rotate(-90) scale(0.9856,1)" x="-0.98" font-size="43.5">Time (ps)</text>
<text transform="translate(769.8,681.8) rotate(-90) scale(0.9630,1)" x="-3.57" font-size="43.5">Radius (mm)</text>
<text transform="translate(192.07,968.9) scale(0.9623,1)" font-size="43.5">Electron energy (keV)</text>
<text transform="translate(856.32,33.6) scale(0.9926,1)" font-size="43.5">(B)</text>
<text transform="translate(1180.69,82.2) scale(0.9750,1)" font-size="27.6">Projected range (0.0 T)</text>
<text transform="translate(1180.69,126.8) scale(0.9750,1)" font-size="27.6">Projected range (3.0 T)</text>
<text transform="translate(1180.69,171.5) scale(0.9750,1)" font-size="27.6">Radius of track (3.0 T)</text>
<polyline points="1140,73.8 1180,73.8" fill="none" stroke="#000000" stroke-width="1.2" stroke-dasharray="3.5 3" stroke-linecap="butt" stroke-linejoin="round"/>
<path d="M1150.8,66.2 L1166,81.4 M1150.8,81.4 L1166,66.2" stroke="#000000" stroke-width="1.7"/>
<polyline points="1140,118.6 1180,118.6" fill="none" stroke="#000000" stroke-width="1.2" stroke-dasharray="3.5 3" stroke-linecap="butt" stroke-linejoin="round"/>
<path d="M1150.4,118.6 L1166.4,118.6 M1158.4,110.6 L1158.4,126.6" stroke="#000000" stroke-width="1.7"/>
<polyline points="1140,163.6 1180,163.6" fill="none" stroke="#0000ff" stroke-width="1.2" stroke-dasharray="3.5 3" stroke-linecap="butt" stroke-linejoin="round"/>
<circle cx="1158.4" cy="163.6" r="7.2" fill="none" stroke="#0000ff" stroke-width="1.7"/>
<rect x="1069.0" y="207.0" width="471.8" height="637.1" fill="none" stroke="#000" stroke-width="2.3"/>
<line x1="1211.03" y1="844.1" x2="1211.03" y2="833.6" stroke="#000000" stroke-width="2.3" />
<line x1="1294.11" y1="844.1" x2="1294.11" y2="833.6" stroke="#000000" stroke-width="2.3" />
<line x1="1353.05" y1="844.1" x2="1353.05" y2="833.6" stroke="#000000" stroke-width="2.3" />
<line x1="1398.77" y1="844.1" x2="1398.77" y2="833.6" stroke="#000000" stroke-width="2.3" />
<line x1="1436.13" y1="844.1" x2="1436.13" y2="833.6" stroke="#000000" stroke-width="2.3" />
<line x1="1467.72" y1="844.1" x2="1467.72" y2="833.6" stroke="#000000" stroke-width="2.3" />
<line x1="1495.08" y1="844.1" x2="1495.08" y2="833.6" stroke="#000000" stroke-width="2.3" />
<line x1="1519.21" y1="844.1" x2="1519.21" y2="833.6" stroke="#000000" stroke-width="2.3" />
<line x1="1069" y1="748.21" x2="1079.5" y2="748.21" stroke="#000000" stroke-width="2.3" />
<line x1="1540.8" y1="748.21" x2="1530.3" y2="748.21" stroke="#000000" stroke-width="2.3" />
<line x1="1069" y1="692.11" x2="1079.5" y2="692.11" stroke="#000000" stroke-width="2.3" />
<line x1="1540.8" y1="692.11" x2="1530.3" y2="692.11" stroke="#000000" stroke-width="2.3" />
<line x1="1069" y1="652.31" x2="1079.5" y2="652.31" stroke="#000000" stroke-width="2.3" />
<line x1="1540.8" y1="652.31" x2="1530.3" y2="652.31" stroke="#000000" stroke-width="2.3" />
<line x1="1069" y1="621.44" x2="1079.5" y2="621.44" stroke="#000000" stroke-width="2.3" />
<line x1="1540.8" y1="621.44" x2="1530.3" y2="621.44" stroke="#000000" stroke-width="2.3" />
<line x1="1069" y1="596.22" x2="1079.5" y2="596.22" stroke="#000000" stroke-width="2.3" />
<line x1="1540.8" y1="596.22" x2="1530.3" y2="596.22" stroke="#000000" stroke-width="2.3" />
<line x1="1069" y1="574.89" x2="1079.5" y2="574.89" stroke="#000000" stroke-width="2.3" />
<line x1="1540.8" y1="574.89" x2="1530.3" y2="574.89" stroke="#000000" stroke-width="2.3" />
<line x1="1069" y1="556.42" x2="1079.5" y2="556.42" stroke="#000000" stroke-width="2.3" />
<line x1="1540.8" y1="556.42" x2="1530.3" y2="556.42" stroke="#000000" stroke-width="2.3" />
<line x1="1069" y1="540.13" x2="1079.5" y2="540.13" stroke="#000000" stroke-width="2.3" />
<line x1="1540.8" y1="540.13" x2="1530.3" y2="540.13" stroke="#000000" stroke-width="2.3" />
<line x1="1069" y1="429.66" x2="1079.5" y2="429.66" stroke="#000000" stroke-width="2.3" />
<line x1="1540.8" y1="429.66" x2="1530.3" y2="429.66" stroke="#000000" stroke-width="2.3" />
<line x1="1069" y1="373.56" x2="1079.5" y2="373.56" stroke="#000000" stroke-width="2.3" />
<line x1="1540.8" y1="373.56" x2="1530.3" y2="373.56" stroke="#000000" stroke-width="2.3" />
<line x1="1069" y1="333.76" x2="1079.5" y2="333.76" stroke="#000000" stroke-width="2.3" />
<line x1="1540.8" y1="333.76" x2="1530.3" y2="333.76" stroke="#000000" stroke-width="2.3" />
<line x1="1069" y1="302.89" x2="1079.5" y2="302.89" stroke="#000000" stroke-width="2.3" />
<line x1="1540.8" y1="302.89" x2="1530.3" y2="302.89" stroke="#000000" stroke-width="2.3" />
<line x1="1069" y1="277.67" x2="1079.5" y2="277.67" stroke="#000000" stroke-width="2.3" />
<line x1="1540.8" y1="277.67" x2="1530.3" y2="277.67" stroke="#000000" stroke-width="2.3" />
<line x1="1069" y1="256.34" x2="1079.5" y2="256.34" stroke="#000000" stroke-width="2.3" />
<line x1="1540.8" y1="256.34" x2="1530.3" y2="256.34" stroke="#000000" stroke-width="2.3" />
<line x1="1069" y1="237.87" x2="1079.5" y2="237.87" stroke="#000000" stroke-width="2.3" />
<line x1="1540.8" y1="237.87" x2="1530.3" y2="237.87" stroke="#000000" stroke-width="2.3" />
<line x1="1069" y1="221.58" x2="1079.5" y2="221.58" stroke="#000000" stroke-width="2.3" />
<line x1="1540.8" y1="221.58" x2="1530.3" y2="221.58" stroke="#000000" stroke-width="2.3" />
<line x1="1069" y1="525.55" x2="1083.5" y2="525.55" stroke="#000000" stroke-width="2.3" />
<line x1="1540.8" y1="525.55" x2="1526.3" y2="525.55" stroke="#000000" stroke-width="2.3" />
<polyline points="1069,787.6 1211.03,623.5 1294.11,532.3 1353.05,473.2 1398.77,428.6 1436.13,395 1467.72,368.4 1540.8,311.2" fill="none" stroke="#000000" stroke-width="1.3" stroke-dasharray="4 3" stroke-linecap="butt" stroke-linejoin="round"/>
<polyline points="1069,787.9 1211.03,636.8 1294.11,562.7 1353.05,526.8 1398.77,506.4 1436.13,495.8 1467.72,487.9 1523.9,476.7 1540.8,472.8" fill="none" stroke="#000000" stroke-width="1.3" stroke-dasharray="4 3" stroke-linecap="butt" stroke-linejoin="round"/>
<path d="M1061.4,780 L1076.6,795.2 M1061.4,795.2 L1076.6,780" stroke="#000000" stroke-width="1.7"/>
<path d="M1203.43,615.9 L1218.63,631.1 M1203.43,631.1 L1218.63,615.9" stroke="#000000" stroke-width="1.7"/>
<path d="M1286.51,524.7 L1301.71,539.9 M1286.51,539.9 L1301.71,524.7" stroke="#000000" stroke-width="1.7"/>
<path d="M1345.45,465.6 L1360.65,480.8 M1345.45,480.8 L1360.65,465.6" stroke="#000000" stroke-width="1.7"/>
<path d="M1391.17,421 L1406.37,436.2 M1391.17,436.2 L1406.37,421" stroke="#000000" stroke-width="1.7"/>
<path d="M1428.53,387.4 L1443.73,402.6 M1428.53,402.6 L1443.73,387.4" stroke="#000000" stroke-width="1.7"/>
<path d="M1460.12,360.8 L1475.32,376 M1460.12,376 L1475.32,360.8" stroke="#000000" stroke-width="1.7"/>
<path d="M1533.2,303.6 L1548.4,318.8 M1533.2,318.8 L1548.4,303.6" stroke="#000000" stroke-width="1.7"/>
<path d="M1060,787.9 L1078,787.9 M1069,778.9 L1069,796.9" stroke="#000000" stroke-width="1.7"/>
<path d="M1202.03,636.8 L1220.03,636.8 M1211.03,627.8 L1211.03,645.8" stroke="#000000" stroke-width="1.7"/>
<path d="M1285.11,562.7 L1303.11,562.7 M1294.11,553.7 L1294.11,571.7" stroke="#000000" stroke-width="1.7"/>
<path d="M1344.05,526.8 L1362.05,526.8 M1353.05,517.8 L1353.05,535.8" stroke="#000000" stroke-width="1.7"/>
<path d="M1389.77,506.4 L1407.77,506.4 M1398.77,497.4 L1398.77,515.4" stroke="#000000" stroke-width="1.7"/>
<path d="M1427.13,495.8 L1445.13,495.8 M1436.13,486.8 L1436.13,504.8" stroke="#000000" stroke-width="1.7"/>
<path d="M1458.72,487.9 L1476.72,487.9 M1467.72,478.9 L1467.72,496.9" stroke="#000000" stroke-width="1.7"/>
<path d="M1531.8,472.8 L1549.8,472.8 M1540.8,463.8 L1540.8,481.8" stroke="#000000" stroke-width="1.7"/>
<polyline points="1069,566.3 1211.03,512.45 1294.11,478.96 1353.05,454.01 1398.77,433.88 1436.13,416.86 1467.72,402.06 1495.08,388.92 1519.21,377.08 1540.8,366.28" fill="none" stroke="#0000ff" stroke-width="1.5" stroke-dasharray="4.5 3.2" stroke-linecap="butt" stroke-linejoin="round"/>
<circle cx="1069" cy="566.3" r="7.8" fill="none" stroke="#0000ff" stroke-width="1.9"/>
<circle cx="1211.03" cy="512.45" r="7.8" fill="none" stroke="#0000ff" stroke-width="1.9"/>
<circle cx="1294.11" cy="478.96" r="7.8" fill="none" stroke="#0000ff" stroke-width="1.9"/>
<circle cx="1353.05" cy="454.01" r="7.8" fill="none" stroke="#0000ff" stroke-width="1.9"/>
<circle cx="1398.77" cy="433.88" r="7.8" fill="none" stroke="#0000ff" stroke-width="1.9"/>
<circle cx="1436.13" cy="416.86" r="7.8" fill="none" stroke="#0000ff" stroke-width="1.9"/>
<circle cx="1467.72" cy="402.06" r="7.8" fill="none" stroke="#0000ff" stroke-width="1.9"/>
<circle cx="1495.08" cy="388.92" r="7.8" fill="none" stroke="#0000ff" stroke-width="1.9"/>
<circle cx="1519.21" cy="377.08" r="7.8" fill="none" stroke="#0000ff" stroke-width="1.9"/>
<circle cx="1540.8" cy="366.28" r="7.8" fill="none" stroke="#0000ff" stroke-width="1.9"/>
<text transform="translate(911.69,216.5) scale(0.9500,1)" font-size="37">5.0</text>
<text transform="translate(964.02,218.5) scale(1.0000,1)" font-size="41.5">×</text>
<text transform="translate(990.68,216.5) scale(0.9500,1)" font-size="37">10</text>
<text transform="translate(1030.32,205.5) scale(0.9000,1)" font-size="25">0</text>
<text transform="translate(911.69,532.3) scale(0.9500,1)" font-size="37">5.0</text>
<text transform="translate(964.02,534.3) scale(1.0000,1)" font-size="41.5">×</text>
<text transform="translate(990.68,532.3) scale(0.9500,1)" font-size="37">10</text>
<text transform="translate(1030.2,521.3) scale(0.9000,1)" font-size="25">-1</text>
<text transform="translate(911.69,853.2) scale(0.9500,1)" font-size="37">5.0</text>
<text transform="translate(964.02,855.2) scale(1.0000,1)" font-size="41.5">×</text>
<text transform="translate(990.68,853.2) scale(0.9500,1)" font-size="37">10</text>
<text transform="translate(1030.2,842.2) scale(0.9000,1)" font-size="25">-2</text>
<text transform="translate(1564.59,216.6) scale(0.9500,1)" font-size="37">5.0</text>
<text transform="translate(1616.82,218.6) scale(1.0000,1)" font-size="41.5">×</text>
<text transform="translate(1643.48,216.6) scale(0.9500,1)" font-size="37">10</text>
<text transform="translate(1683.12,205.6) scale(0.9000,1)" font-size="25">0</text>
<text transform="translate(1564.59,537.7) scale(0.9500,1)" font-size="37">5.0</text>
<text transform="translate(1616.82,539.7) scale(1.0000,1)" font-size="41.5">×</text>
<text transform="translate(1643.48,537.7) scale(0.9500,1)" font-size="37">10</text>
<text transform="translate(1683,526.7) scale(0.9000,1)" font-size="25">-1</text>
<text transform="translate(1564.59,852.3) scale(0.9500,1)" font-size="37">5.0</text>
<text transform="translate(1616.82,854.3) scale(1.0000,1)" font-size="41.5">×</text>
<text transform="translate(1643.48,852.3) scale(0.9500,1)" font-size="37">10</text>
<text transform="translate(1683,841.3) scale(0.9000,1)" font-size="25">-2</text>
<text transform="translate(1038.73,892.6) scale(0.9750,1)" font-size="37">10</text>
<text transform="translate(1078.32,881.5) scale(0.9600,1)" font-size="24.5">2</text>
<text transform="translate(1515.13,892) scale(0.9750,1)" font-size="37">10</text>
<text transform="translate(1555.1,881.3) scale(0.9600,1)" font-size="24.5">3</text>
<text transform="translate(883.2,739.7) rotate(-90) scale(0.9598,1)" x="-3.57" font-size="43.5">Projected range (mm)</text>
<text transform="translate(1759,637.4) rotate(-90) scale(0.9626,1)" x="-3.57" font-size="43.5">Radius (mm)</text>
<text transform="translate(1105.65,968.9) scale(0.9657,1)" font-size="43.5">Electron energy (keV)</text>
</svg></body></html>
